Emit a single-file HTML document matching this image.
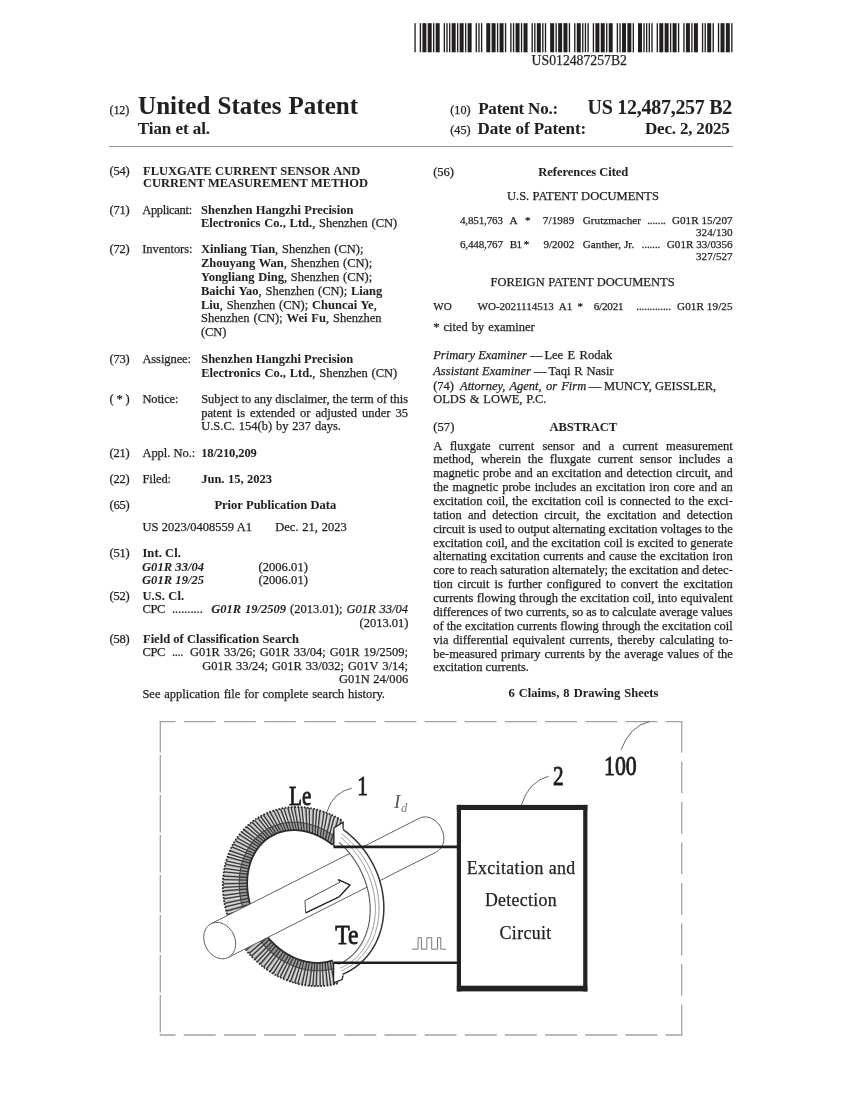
<!DOCTYPE html>
<html><head><meta charset="utf-8"><title>US 12,487,257 B2</title><style>
html,body{margin:0;padding:0;background:#fff;}
body{width:850px;height:1100px;position:relative;overflow:hidden;-webkit-font-smoothing:antialiased;font-family:"Liberation Serif",serif;color:#231f20;}
.t{position:absolute;white-space:nowrap;line-height:1;-webkit-text-stroke:0.25px #231f20;}
.b,b{font-weight:bold;-webkit-text-stroke-width:0.05px}
</style></head>
<body>
<div style="position:absolute;left:0;top:0;width:850px;height:1100px;will-change:transform">
<svg style="position:absolute;left:0;top:0" width="850" height="1100"><g fill="#231f20"><rect x="414.40" y="23.2" width="1.33" height="29.099999999999998"/><rect x="419.72" y="23.2" width="1.33" height="29.099999999999998"/><rect x="422.39" y="23.2" width="3.99" height="29.099999999999998"/><rect x="427.71" y="23.2" width="3.99" height="29.099999999999998"/><rect x="433.03" y="23.2" width="1.33" height="29.099999999999998"/><rect x="435.70" y="23.2" width="3.99" height="29.099999999999998"/><rect x="443.68" y="23.2" width="1.33" height="29.099999999999998"/><rect x="446.34" y="23.2" width="1.33" height="29.099999999999998"/><rect x="449.01" y="23.2" width="1.33" height="29.099999999999998"/><rect x="451.67" y="23.2" width="3.99" height="29.099999999999998"/><rect x="456.99" y="23.2" width="1.33" height="29.099999999999998"/><rect x="459.65" y="23.2" width="3.99" height="29.099999999999998"/><rect x="464.98" y="23.2" width="1.33" height="29.099999999999998"/><rect x="467.64" y="23.2" width="3.99" height="29.099999999999998"/><rect x="475.62" y="23.2" width="1.33" height="29.099999999999998"/><rect x="478.29" y="23.2" width="1.33" height="29.099999999999998"/><rect x="480.95" y="23.2" width="1.33" height="29.099999999999998"/><rect x="486.27" y="23.2" width="3.99" height="29.099999999999998"/><rect x="491.60" y="23.2" width="3.99" height="29.099999999999998"/><rect x="496.92" y="23.2" width="1.33" height="29.099999999999998"/><rect x="499.58" y="23.2" width="3.99" height="29.099999999999998"/><rect x="504.91" y="23.2" width="1.33" height="29.099999999999998"/><rect x="510.23" y="23.2" width="1.33" height="29.099999999999998"/><rect x="512.89" y="23.2" width="1.33" height="29.099999999999998"/><rect x="515.55" y="23.2" width="3.99" height="29.099999999999998"/><rect x="520.88" y="23.2" width="1.33" height="29.099999999999998"/><rect x="523.54" y="23.2" width="3.99" height="29.099999999999998"/><rect x="531.52" y="23.2" width="1.33" height="29.099999999999998"/><rect x="534.19" y="23.2" width="1.33" height="29.099999999999998"/><rect x="536.85" y="23.2" width="3.99" height="29.099999999999998"/><rect x="542.17" y="23.2" width="1.33" height="29.099999999999998"/><rect x="544.83" y="23.2" width="1.33" height="29.099999999999998"/><rect x="550.16" y="23.2" width="3.99" height="29.099999999999998"/><rect x="555.48" y="23.2" width="1.33" height="29.099999999999998"/><rect x="558.14" y="23.2" width="3.99" height="29.099999999999998"/><rect x="563.47" y="23.2" width="3.99" height="29.099999999999998"/><rect x="568.79" y="23.2" width="1.33" height="29.099999999999998"/><rect x="574.12" y="23.2" width="1.33" height="29.099999999999998"/><rect x="576.78" y="23.2" width="3.99" height="29.099999999999998"/><rect x="582.10" y="23.2" width="1.33" height="29.099999999999998"/><rect x="584.76" y="23.2" width="1.33" height="29.099999999999998"/><rect x="587.43" y="23.2" width="1.33" height="29.099999999999998"/><rect x="592.75" y="23.2" width="1.33" height="29.099999999999998"/><rect x="595.41" y="23.2" width="3.99" height="29.099999999999998"/><rect x="600.73" y="23.2" width="3.99" height="29.099999999999998"/><rect x="606.06" y="23.2" width="1.33" height="29.099999999999998"/><rect x="608.72" y="23.2" width="3.99" height="29.099999999999998"/><rect x="616.71" y="23.2" width="1.33" height="29.099999999999998"/><rect x="619.37" y="23.2" width="1.33" height="29.099999999999998"/><rect x="622.03" y="23.2" width="3.99" height="29.099999999999998"/><rect x="627.35" y="23.2" width="3.99" height="29.099999999999998"/><rect x="632.68" y="23.2" width="1.33" height="29.099999999999998"/><rect x="638.00" y="23.2" width="3.99" height="29.099999999999998"/><rect x="643.33" y="23.2" width="1.33" height="29.099999999999998"/><rect x="645.99" y="23.2" width="1.33" height="29.099999999999998"/><rect x="648.65" y="23.2" width="1.33" height="29.099999999999998"/><rect x="651.31" y="23.2" width="1.33" height="29.099999999999998"/><rect x="656.64" y="23.2" width="1.33" height="29.099999999999998"/><rect x="659.30" y="23.2" width="3.99" height="29.099999999999998"/><rect x="664.62" y="23.2" width="3.99" height="29.099999999999998"/><rect x="669.94" y="23.2" width="1.33" height="29.099999999999998"/><rect x="672.61" y="23.2" width="3.99" height="29.099999999999998"/><rect x="677.93" y="23.2" width="1.33" height="29.099999999999998"/><rect x="683.25" y="23.2" width="1.33" height="29.099999999999998"/><rect x="685.92" y="23.2" width="3.99" height="29.099999999999998"/><rect x="691.24" y="23.2" width="1.33" height="29.099999999999998"/><rect x="693.90" y="23.2" width="3.99" height="29.099999999999998"/><rect x="701.89" y="23.2" width="1.33" height="29.099999999999998"/><rect x="704.55" y="23.2" width="1.33" height="29.099999999999998"/><rect x="707.21" y="23.2" width="3.99" height="29.099999999999998"/><rect x="712.54" y="23.2" width="1.33" height="29.099999999999998"/><rect x="717.86" y="23.2" width="1.33" height="29.099999999999998"/><rect x="720.52" y="23.2" width="3.99" height="29.099999999999998"/><rect x="725.85" y="23.2" width="3.99" height="29.099999999999998"/><rect x="731.17" y="23.2" width="1.33" height="29.099999999999998"/></g></svg>
<div style="position:absolute;left:108.9px;top:145.9px;width:624px;height:1.1px;background:#9a9a9a"></div>
<svg style="position:absolute;left:0;top:0" width="850" height="1100" viewBox="0 0 850 1100">
<g stroke="#a3a3a3" stroke-width="1.3" fill="none">
<path d="M159.6,721.6 L682.3,721.6" stroke-dasharray="31.9 8.25" stroke-dashoffset="16"/>
<path d="M159.6,1035 L682.3,1035" stroke-dasharray="31.9 8.25" stroke-dashoffset="16"/>
<path d="M681.7,721 L681.7,1035.6" stroke-dasharray="31.8 8.7" stroke-dashoffset="0"/>
<path d="M160.3,721 L160.3,1035.6" stroke-dasharray="37.5 2.5" stroke-dashoffset="6"/>
</g>
<path d="M341.40,820.12 L340.64,819.66 L339.88,819.21 L339.11,818.77 L338.35,818.33 L337.58,817.90 L336.80,817.48 L336.02,817.07 L335.24,816.67 L334.46,816.27 L333.68,815.88 L332.89,815.50 L332.10,815.13 L331.30,814.76 L330.51,814.41 L329.71,814.06 L328.91,813.72 L328.11,813.38 L327.30,813.06 L326.50,812.74 L325.69,812.43 L324.88,812.13 L324.07,811.84 L323.25,811.56 L322.44,811.28 L321.62,811.02 L320.80,810.76 L319.99,810.51 L319.16,810.27 L318.34,810.03 L317.52,809.81 L316.70,809.59 L315.87,809.39 L315.04,809.19 L314.22,809.00 L313.39,808.81 L312.56,808.64 L311.73,808.47 L310.90,808.32 L310.07,808.17 L309.24,808.03 L308.41,807.90 L307.58,807.78 L306.75,807.67 L305.92,807.56 L305.09,807.47 L304.26,807.38 L303.43,807.30 L302.60,807.23 L301.77,807.17 L300.95,807.12 L300.12,807.07 L299.29,807.04 L298.46,807.01 L297.64,807.00 L296.81,806.99 L295.99,806.99 L295.17,807.00 L294.34,807.01 L293.52,807.04 L292.70,807.08 L291.89,807.12 L291.07,807.17 L290.26,807.24 L289.44,807.31 L288.63,807.38 L287.82,807.47 L287.01,807.57 L286.21,807.67 L285.40,807.79 L284.60,807.91 L283.80,808.04 L283.00,808.18 L282.21,808.33 L281.41,808.49 L280.62,808.65 L279.84,808.83 L279.05,809.01 L278.27,809.20 L277.49,809.40 L276.71,809.61 L275.94,809.83 L275.17,810.05 L274.40,810.29 L273.64,810.53 L272.87,810.78 L272.12,811.04 L271.36,811.30 L270.61,811.58 L269.86,811.86 L269.12,812.16 L268.38,812.46 L267.64,812.77 L266.91,813.08 L266.18,813.41 L265.46,813.74 L264.73,814.08 L264.02,814.43 L263.31,814.79 L262.60,815.16 L261.89,815.53 L261.19,815.91 L260.50,816.30 L259.81,816.70 L259.12,817.10 L258.44,817.51 L257.76,817.93 L257.09,818.36 L256.42,818.80 L255.76,819.24 L255.11,819.69 L254.45,820.15 L253.81,820.62 L253.16,821.09 L252.53,821.57 L251.90,822.06 L251.27,822.55 L250.65,823.06 L250.04,823.57 L249.43,824.08 L248.82,824.61 L248.22,825.14 L247.63,825.68 L247.05,826.22 L246.46,826.77 L245.89,827.33 L245.32,827.90 L244.76,828.47 L244.20,829.05 L243.65,829.63 L243.11,830.22 L242.57,830.82 L242.03,831.43 L241.51,832.04 L240.99,832.65 L240.48,833.28 L239.97,833.91 L239.47,834.54 L238.98,835.19 L238.49,835.83 L238.01,836.49 L237.54,837.15 L237.07,837.81 L236.61,838.48 L236.16,839.16 L235.71,839.84 L235.27,840.53 L234.84,841.23 L234.41,841.93 L234.00,842.63 L233.59,843.34 L233.18,844.05 L232.79,844.77 L232.40,845.50 L232.01,846.23 L231.64,846.96 L231.27,847.70 L230.91,848.45 L230.56,849.20 L230.21,849.95 L229.88,850.71 L229.55,851.47 L229.22,852.24 L228.91,853.01 L228.60,853.79 L228.30,854.57 L228.01,855.35 L227.72,856.14 L227.45,856.93 L227.18,857.73 L226.92,858.53 L226.66,859.33 L226.42,860.14 L226.18,860.95 L225.95,861.77 L225.73,862.58 L225.51,863.40 L225.31,864.23 L225.11,865.06 L224.92,865.89 L224.74,866.72 L224.56,867.56 L224.40,868.40 L224.24,869.24 L224.09,870.08 L223.95,870.93 L223.81,871.78 L223.69,872.63 L223.57,873.49 L223.46,874.34 L223.36,875.20 L223.27,876.06 L223.18,876.93 L223.10,877.79 L223.04,878.66 L222.98,879.53 L222.92,880.40 L222.88,881.27 L222.84,882.14 L222.82,883.02 L222.80,883.89 L222.78,884.77 L222.78,885.65 L222.79,886.53 L222.80,887.41 L222.82,888.29 L222.85,889.17 L222.89,890.06 L222.94,890.94 L222.99,891.82 L223.05,892.71 L223.12,893.59 L223.20,894.48 L223.29,895.36 L223.38,896.25 L223.49,897.14 L223.60,898.02 L223.72,898.91 L223.85,899.79 L223.98,900.68 L224.13,901.56 L224.28,902.45 L224.44,903.33 L224.61,904.21 L224.78,905.09 L224.97,905.98 L225.16,906.86 L225.36,907.74 L225.57,908.61 L225.78,909.49 L226.01,910.37 L226.24,911.24 L226.48,912.11 L226.73,912.99 L226.98,913.86 L227.24,914.72 L227.51,915.59 L227.79,916.45 L228.08,917.32 L228.37,918.18 L228.68,919.04 L228.98,919.89 L229.30,920.75 L229.63,921.60 L229.96,922.45 L230.30,923.30 L230.64,924.14 L231.00,924.98 L231.36,925.82 L231.73,926.66 L232.11,927.49 L232.49,928.32 L232.88,929.14 L233.28,929.97 L233.69,930.79 L234.10,931.61 L234.52,932.42 L234.95,933.23 L235.38,934.04 L235.82,934.84 L236.27,935.64 L236.72,936.43 L237.18,937.22 L237.65,938.01 L238.13,938.80 L238.61,939.58 L239.10,940.35 L239.59,941.12 L240.09,941.89 L240.60,942.65 L241.12,943.41 L241.64,944.16 L242.17,944.91 L242.70,945.65 L243.24,946.39 L243.78,947.12 L244.34,947.85 L244.90,948.58 L245.46,949.30 L246.03,950.01 L246.61,950.72 L247.19,951.42 L247.78,952.12 L248.37,952.81 L248.97,953.50 L249.58,954.18 L250.19,954.86 L250.80,955.53 L251.42,956.19 L252.05,956.85 L252.68,957.50 L253.32,958.15 L253.97,958.79 L254.61,959.42 L255.27,960.05 L255.93,960.68 L256.59,961.29 L257.26,961.90 L257.93,962.50 L258.61,963.10 L259.29,963.69 L259.98,964.28 L260.67,964.85 L261.37,965.42 L262.07,965.99 L262.77,966.54 L263.48,967.09 L264.19,967.64 L264.91,968.17 L265.63,968.70 L266.36,969.23 L267.09,969.74 L267.82,970.25 L268.56,970.75 L269.30,971.24 L270.05,971.73 L270.80,972.21 L271.55,972.68 L272.30,973.15 L273.06,973.60 L273.82,974.05 L274.59,974.49 L275.36,974.93 L276.13,975.35 L276.90,975.77 L277.68,976.18 L278.46,976.59 L279.25,976.98 L280.03,977.37 L280.82,977.75 L281.61,978.12 L282.40,978.49 L283.20,978.84 L284.00,979.19 L284.80,979.53 L285.60,979.86 L286.40,980.18 L287.21,980.50 L288.02,980.81 L288.83,981.11 L289.64,981.40 L290.46,981.68 L291.27,981.95 L292.09,982.22 L292.91,982.48 L293.73,982.72 L294.55,982.96 L295.37,983.20 L296.19,983.42 L297.02,983.64 L297.84,983.84 L298.67,984.04 L299.49,984.23 L300.32,984.41 L301.15,984.58 L301.98,984.75 L302.81,984.90 L303.64,985.05 L304.47,985.19 L305.30,985.32 L306.13,985.44 L306.96,985.55 L307.79,985.65 L308.62,985.75 L309.45,985.83 L310.28,985.91 L311.11,985.98 L311.94,986.04 L312.77,986.09 L313.59,986.13 L314.42,986.17 L315.25,986.19 L316.07,986.21 L316.90,986.21 L317.72,986.21 L318.55,986.20 L319.37,986.18 L320.19,986.15 L321.01,986.12 L321.82,986.07 L322.64,986.02 L323.46,985.96 L324.27,985.88 L325.08,985.80 L325.89,985.72 L326.70,985.62 L327.50,985.51 L328.31,985.40 L329.11,985.27 L329.91,985.14 L330.71,985.00 L331.50,984.85 L332.29,984.69 L333.08,984.52 L333.87,984.35 L334.65,984.17 L335.44,983.97 L336.22,983.77 L336.99,983.56 L337.77,983.34 L332.34,960.42 L331.80,960.60 L331.27,960.77 L330.73,960.94 L330.18,961.09 L329.64,961.25 L329.09,961.39 L328.53,961.53 L327.98,961.66 L327.42,961.79 L326.87,961.90 L326.31,962.01 L325.74,962.12 L325.18,962.22 L324.61,962.31 L324.04,962.39 L323.47,962.47 L322.90,962.54 L322.32,962.60 L321.75,962.65 L321.17,962.70 L320.59,962.74 L320.01,962.78 L319.43,962.81 L318.84,962.83 L318.26,962.84 L317.67,962.85 L317.08,962.85 L316.49,962.84 L315.90,962.83 L315.31,962.81 L314.72,962.78 L314.13,962.74 L313.53,962.70 L312.94,962.65 L312.34,962.60 L311.74,962.53 L311.15,962.46 L310.55,962.39 L309.95,962.30 L309.35,962.21 L308.75,962.12 L308.15,962.01 L307.55,961.90 L306.95,961.78 L306.35,961.66 L305.75,961.52 L305.15,961.39 L304.55,961.24 L303.95,961.09 L303.35,960.93 L302.75,960.76 L302.15,960.59 L301.56,960.41 L300.96,960.23 L300.36,960.03 L299.76,959.83 L299.17,959.63 L298.57,959.41 L297.97,959.20 L297.38,958.97 L296.79,958.74 L296.19,958.50 L295.60,958.25 L295.01,958.00 L294.42,957.74 L293.83,957.48 L293.25,957.21 L292.66,956.93 L292.08,956.64 L291.49,956.35 L290.91,956.06 L290.33,955.75 L289.75,955.44 L289.18,955.13 L288.60,954.81 L288.03,954.48 L287.46,954.15 L286.89,953.81 L286.32,953.46 L285.76,953.11 L285.19,952.75 L284.63,952.39 L284.07,952.02 L283.52,951.64 L282.96,951.26 L282.41,950.87 L281.86,950.48 L281.31,950.08 L280.77,949.68 L280.23,949.27 L279.69,948.85 L279.15,948.43 L278.62,948.01 L278.09,947.57 L277.56,947.14 L277.04,946.70 L276.52,946.25 L276.00,945.80 L275.48,945.34 L274.97,944.87 L274.46,944.41 L273.95,943.93 L273.45,943.45 L272.95,942.97 L272.46,942.48 L271.96,941.99 L271.48,941.49 L270.99,940.99 L270.51,940.48 L270.03,939.97 L269.56,939.46 L269.09,938.94 L268.62,938.41 L268.16,937.88 L267.70,937.35 L267.25,936.81 L266.80,936.27 L266.35,935.72 L265.91,935.17 L265.47,934.61 L265.04,934.05 L264.61,933.49 L264.18,932.93 L263.76,932.35 L263.34,931.78 L262.93,931.20 L262.52,930.62 L262.12,930.04 L261.72,929.45 L261.33,928.85 L260.94,928.26 L260.56,927.66 L260.18,927.06 L259.80,926.45 L259.43,925.84 L259.07,925.23 L258.71,924.62 L258.35,924.00 L258.00,923.38 L257.66,922.76 L257.32,922.13 L256.98,921.50 L256.65,920.87 L256.33,920.23 L256.01,919.60 L255.69,918.96 L255.38,918.32 L255.08,917.67 L254.78,917.03 L254.49,916.38 L254.20,915.73 L253.92,915.08 L253.64,914.42 L253.37,913.77 L253.10,913.11 L252.84,912.45 L252.59,911.79 L252.34,911.13 L252.09,910.46 L251.86,909.80 L251.62,909.13 L251.40,908.46 L251.18,907.79 L250.96,907.12 L250.75,906.45 L250.55,905.78 L250.35,905.10 L250.16,904.43 L249.97,903.75 L249.79,903.07 L249.62,902.40 L249.45,901.72 L249.28,901.04 L249.13,900.36 L248.98,899.68 L248.83,899.00 L248.69,898.32 L248.56,897.64 L248.43,896.96 L248.31,896.28 L248.20,895.60 L248.09,894.92 L247.99,894.24 L247.89,893.56 L247.80,892.88 L247.71,892.20 L247.63,891.52 L247.56,890.85 L247.50,890.17 L247.44,889.49 L247.38,888.82 L247.33,888.14 L247.29,887.47 L247.26,886.79 L247.23,886.12 L247.20,885.45 L247.19,884.78 L247.18,884.11 L247.17,883.44 L247.17,882.78 L247.18,882.11 L247.19,881.45 L247.21,880.79 L247.24,880.13 L247.27,879.47 L247.31,878.81 L247.35,878.16 L247.40,877.50 L247.46,876.85 L247.52,876.20 L247.59,875.56 L247.67,874.91 L247.75,874.27 L247.84,873.63 L247.93,872.99 L248.03,872.36 L248.13,871.73 L248.25,871.10 L248.36,870.47 L248.49,869.84 L248.62,869.22 L248.75,868.60 L248.89,867.99 L249.04,867.38 L249.19,866.77 L249.35,866.16 L249.52,865.56 L249.69,864.96 L249.87,864.36 L250.05,863.76 L250.24,863.17 L250.43,862.59 L250.63,862.01 L250.84,861.43 L251.05,860.85 L251.27,860.28 L251.49,859.71 L251.72,859.15 L251.96,858.59 L252.20,858.03 L252.44,857.48 L252.70,856.93 L252.95,856.39 L253.22,855.85 L253.48,855.31 L253.76,854.78 L254.04,854.25 L254.32,853.73 L254.61,853.21 L254.91,852.70 L255.21,852.19 L255.51,851.69 L255.83,851.19 L256.14,850.69 L256.47,850.20 L256.79,849.72 L257.12,849.24 L257.46,848.76 L257.80,848.29 L258.15,847.83 L258.50,847.37 L258.86,846.91 L259.22,846.46 L259.59,846.02 L259.96,845.58 L260.34,845.15 L260.72,844.72 L261.11,844.30 L261.50,843.88 L261.89,843.47 L262.29,843.06 L262.70,842.66 L263.11,842.27 L263.52,841.88 L263.94,841.49 L264.36,841.12 L264.79,840.75 L265.22,840.38 L265.66,840.02 L266.10,839.67 L266.54,839.32 L266.99,838.98 L267.44,838.64 L267.90,838.31 L268.36,837.99 L268.82,837.67 L269.29,837.36 L269.76,837.05 L270.24,836.75 L270.72,836.46 L271.20,836.17 L271.69,835.89 L272.18,835.62 L272.67,835.35 L273.17,835.09 L273.67,834.84 L274.17,834.59 L274.68,834.35 L275.19,834.11 L275.70,833.88 L276.22,833.66 L276.74,833.45 L277.26,833.24 L277.79,833.04 L278.32,832.84 L278.85,832.65 L279.38,832.47 L279.92,832.30 L280.46,832.13 L281.00,831.97 L281.55,831.81 L282.10,831.66 L282.65,831.52 L283.20,831.39 L283.76,831.26 L284.31,831.14 L284.87,831.03 L285.44,830.92 L286.00,830.82 L286.57,830.73 L287.13,830.64 L287.70,830.56 L288.28,830.49 L288.85,830.43 L289.43,830.37 L290.00,830.32 L290.58,830.27 L291.16,830.23 L291.74,830.20 L292.33,830.18 L292.91,830.16 L293.50,830.15 L294.09,830.15 L294.68,830.16 L295.27,830.17 L295.86,830.18 L296.45,830.21 L297.04,830.24 L297.64,830.28 L298.23,830.33 L298.83,830.38 L299.42,830.44 L300.02,830.51 L300.62,830.58 L301.21,830.66 L301.81,830.75 L302.41,830.85 L303.01,830.95 L303.61,831.06 L304.21,831.17 L304.81,831.29 L305.41,831.42 L306.01,831.56 L306.61,831.70 L307.21,831.85 L307.81,832.01 L308.41,832.17 L309.01,832.34 L309.61,832.52 L310.21,832.70 L310.81,832.89 L311.40,833.09 L312.00,833.29 L312.60,833.50 L313.19,833.72 L313.79,833.94 L314.38,834.17 L314.97,834.41 L315.57,834.65 L316.16,834.90 L316.75,835.16 L317.34,835.42 L317.92,835.69 L318.51,835.96 L319.09,836.24 L319.68,836.53 L320.26,836.83 L320.84,837.13 L321.42,837.43 L322.00,837.75 L322.57,838.07 L323.15,838.39 L323.72,838.72 L324.29,839.06 L324.86,839.40 L325.42,839.75 L325.99,840.11 L326.55,840.47 L327.11,840.84 L327.66,841.21 L328.22,841.59 L328.77,841.97 L329.32,842.36 L329.87,842.76 L330.42,843.16 L330.96,843.57 L331.50,843.98 L332.04,844.40 L332.57,844.83 Z" fill="#b8b8b8" stroke="none"/><path d="M341.40,820.12 L332.57,844.83 M338.35,818.33 L330.42,843.16 M334.46,816.27 L327.66,841.21 M331.30,814.76 L325.42,839.75 M327.30,813.06 L322.57,838.07 M324.07,811.84 L320.26,836.83 M319.99,810.51 L317.34,835.42 M316.70,809.59 L314.97,834.41 M313.39,808.81 L312.60,833.50 M309.24,808.03 L309.61,832.52 M305.92,807.56 L307.21,831.85 M301.77,807.17 L304.21,831.17 M298.46,807.01 L301.81,830.75 M294.34,807.01 L298.83,830.38 M291.07,807.17 L296.45,830.21 M287.82,807.47 L294.09,830.15 M283.80,808.04 L291.16,830.23 M280.62,808.65 L288.85,830.43 M276.71,809.61 L286.00,830.82 M273.64,810.53 L283.76,831.26 M269.86,811.86 L281.00,831.97 M266.91,813.08 L278.85,832.65 M263.31,814.79 L276.22,833.66 M260.50,816.30 L274.17,834.59 M257.76,817.93 L272.18,835.62 M254.45,820.15 L269.76,837.05 M251.90,822.06 L267.90,838.31 M248.82,824.61 L265.66,840.02 M246.46,826.77 L263.94,841.49 M243.65,829.63 L261.89,843.47 M241.51,832.04 L260.34,845.15 M239.47,834.54 L258.86,846.91 M237.07,837.81 L257.12,849.24 M235.27,840.53 L255.83,851.19 M233.18,844.05 L254.32,853.73 M231.64,846.96 L253.22,855.85 M229.88,850.71 L251.96,858.59 M228.60,853.79 L251.05,860.85 M227.45,856.93 L250.24,863.17 M226.18,860.95 L249.35,866.16 M225.31,864.23 L248.75,868.60 M224.40,868.40 L248.13,871.73 M223.81,871.78 L247.75,874.27 M223.27,876.06 L247.40,877.50 M222.98,879.53 L247.24,880.13 M222.80,883.89 L247.17,883.44 M222.80,887.41 L247.23,886.12 M222.94,890.94 L247.38,888.82 M223.29,895.36 L247.71,892.20 M223.72,898.91 L248.09,894.92 M224.44,903.33 L248.69,898.32 M225.16,906.86 L249.28,901.04 M226.24,911.24 L250.16,904.43 M227.24,914.72 L250.96,907.12 M228.37,918.18 L251.86,909.80 M229.96,922.45 L253.10,913.11 M231.36,925.82 L254.20,915.73 M233.28,929.97 L255.69,918.96 M234.95,933.23 L256.98,921.50 M237.18,937.22 L258.71,924.62 M239.10,940.35 L260.18,927.06 M241.12,943.41 L261.72,929.45 M243.78,947.12 L263.76,932.35 M246.03,950.01 L265.47,934.61 M248.97,953.50 L267.70,937.35 M251.42,956.19 L269.56,939.46 M254.61,959.42 L271.96,941.99 M257.26,961.90 L273.95,943.93 M259.98,964.28 L276.00,945.80 M263.48,967.09 L278.62,948.01 M266.36,969.23 L280.77,949.68 M270.05,971.73 L283.52,951.64 M273.06,973.60 L285.76,953.11 M276.90,975.77 L288.60,954.81 M280.03,977.37 L290.91,956.06 M283.20,978.84 L293.25,957.21 M287.21,980.50 L296.19,958.50 M290.46,981.68 L298.57,959.41 M294.55,982.96 L301.56,960.41 M297.84,983.84 L303.95,961.09 M301.98,984.75 L306.95,961.78 M305.30,985.32 L309.35,962.21 M309.45,985.83 L312.34,962.60 M312.77,986.09 L314.72,962.78 M316.07,986.21 L317.08,962.85 M320.19,986.15 L320.01,962.78 M323.46,985.96 L322.32,962.60 M327.50,985.51 L325.18,962.22 M330.71,985.00 L327.42,961.79 M334.65,984.17 L330.18,961.09 M337.77,983.34 L332.34,960.42" stroke="#383838" stroke-width="1.3" fill="none"/><path d="M339.88,819.21 L331.50,843.98 M336.02,817.07 L328.77,841.97 M332.89,815.50 L326.55,840.47 M328.91,813.72 L323.72,838.72 M325.69,812.43 L321.42,837.43 M322.44,811.28 L319.09,836.24 M318.34,810.03 L316.16,834.90 M315.04,809.19 L313.79,833.94 M310.90,808.32 L310.81,832.89 M307.58,807.78 L308.41,832.17 M303.43,807.30 L305.41,831.42 M300.12,807.07 L303.01,830.95 M296.81,806.99 L300.62,830.58 M292.70,807.08 L297.64,830.28 M289.44,807.31 L295.27,830.17 M285.40,807.79 L292.33,830.18 M282.21,808.33 L290.00,830.32 M278.27,809.20 L287.13,830.64 M275.17,810.05 L284.87,831.03 M272.12,811.04 L282.65,831.52 M268.38,812.46 L279.92,832.30 M265.46,813.74 L277.79,833.04 M261.89,815.53 L275.19,834.11 M259.12,817.10 L273.17,835.09 M255.76,819.24 L270.72,836.46 M253.16,821.09 L268.82,837.67 M250.65,823.06 L266.99,838.98 M247.63,825.68 L264.79,840.75 M245.32,827.90 L263.11,842.27 M242.57,830.82 L261.11,844.30 M240.48,833.28 L259.59,846.02 M238.01,836.49 L257.80,848.29 M236.16,839.16 L256.47,850.20 M234.00,842.63 L254.91,852.70 M232.40,845.50 L253.76,854.78 M230.91,848.45 L252.70,856.93 M229.22,852.24 L251.49,859.71 M228.01,855.35 L250.63,862.01 M226.66,859.33 L249.69,864.96 M225.73,862.58 L249.04,867.38 M224.74,866.72 L248.36,870.47 M224.09,870.08 L247.93,872.99 M223.57,873.49 L247.59,875.56 M223.10,877.79 L247.31,878.81 M222.88,881.27 L247.19,881.45 M222.78,885.65 L247.19,884.78 M222.85,889.17 L247.29,887.47 M223.12,893.59 L247.56,890.85 M223.49,897.14 L247.89,893.56 M223.98,900.68 L248.31,896.28 M224.78,905.09 L248.98,899.68 M225.57,908.61 L249.62,902.40 M226.73,912.99 L250.55,905.78 M227.79,916.45 L251.40,908.46 M229.30,920.75 L252.59,911.79 M230.64,924.14 L253.64,914.42 M232.11,927.49 L254.78,917.03 M234.10,931.61 L256.33,920.23 M235.82,934.84 L257.66,922.76 M238.13,938.80 L259.43,925.84 M240.09,941.89 L260.94,928.26 M242.70,945.65 L262.93,931.20 M244.90,948.58 L264.61,933.49 M247.78,952.12 L266.80,936.27 M250.19,954.86 L268.62,938.41 M252.68,957.50 L270.51,940.48 M255.93,960.68 L272.95,942.97 M258.61,963.10 L274.97,944.87 M262.07,965.99 L277.56,947.14 M264.91,968.17 L279.69,948.85 M268.56,970.75 L282.41,950.87 M271.55,972.68 L284.63,952.39 M274.59,974.49 L286.89,953.81 M278.46,976.59 L289.75,955.44 M281.61,978.12 L292.08,956.64 M285.60,979.86 L295.01,958.00 M288.83,981.11 L297.38,958.97 M292.91,982.48 L300.36,960.03 M296.19,983.42 L302.75,960.76 M299.49,984.23 L305.15,961.39 M303.64,985.05 L308.15,962.01 M306.96,985.55 L310.55,962.39 M311.11,985.98 L313.53,962.70 M314.42,986.17 L315.90,962.83 M318.55,986.20 L318.84,962.83 M321.82,986.07 L321.17,962.70 M325.08,985.80 L323.47,962.47 M329.11,985.27 L326.31,962.01 M332.29,984.69 L328.53,961.53 M336.22,983.77 L331.27,960.77" stroke="#e4e4e4" stroke-width="0.9" fill="none"/><path d="M341.40,820.12 L340.64,819.66 L339.88,819.21 L339.11,818.77 L338.35,818.33 L337.58,817.90 L336.80,817.48 L336.02,817.07 L335.24,816.67 L334.46,816.27 L333.68,815.88 L332.89,815.50 L332.10,815.13 L331.30,814.76 L330.51,814.41 L329.71,814.06 L328.91,813.72 L328.11,813.38 L327.30,813.06 L326.50,812.74 L325.69,812.43 L324.88,812.13 L324.07,811.84 L323.25,811.56 L322.44,811.28 L321.62,811.02 L320.80,810.76 L319.99,810.51 L319.16,810.27 L318.34,810.03 L317.52,809.81 L316.70,809.59 L315.87,809.39 L315.04,809.19 L314.22,809.00 L313.39,808.81 L312.56,808.64 L311.73,808.47 L310.90,808.32 L310.07,808.17 L309.24,808.03 L308.41,807.90 L307.58,807.78 L306.75,807.67 L305.92,807.56 L305.09,807.47 L304.26,807.38 L303.43,807.30 L302.60,807.23 L301.77,807.17 L300.95,807.12 L300.12,807.07 L299.29,807.04 L298.46,807.01 L297.64,807.00 L296.81,806.99 L295.99,806.99 L295.17,807.00 L294.34,807.01 L293.52,807.04 L292.70,807.08 L291.89,807.12 L291.07,807.17 L290.26,807.24 L289.44,807.31 L288.63,807.38 L287.82,807.47 L287.01,807.57 L286.21,807.67 L285.40,807.79 L284.60,807.91 L283.80,808.04 L283.00,808.18 L282.21,808.33 L281.41,808.49 L280.62,808.65 L279.84,808.83 L279.05,809.01 L278.27,809.20 L277.49,809.40 L276.71,809.61 L275.94,809.83 L275.17,810.05 L274.40,810.29 L273.64,810.53 L272.87,810.78 L272.12,811.04 L271.36,811.30 L270.61,811.58 L269.86,811.86 L269.12,812.16 L268.38,812.46 L267.64,812.77 L266.91,813.08 L266.18,813.41 L265.46,813.74 L264.73,814.08 L264.02,814.43 L263.31,814.79 L262.60,815.16 L261.89,815.53 L261.19,815.91 L260.50,816.30 L259.81,816.70 L259.12,817.10 L258.44,817.51 L257.76,817.93 L257.09,818.36 L256.42,818.80 L255.76,819.24 L255.11,819.69 L254.45,820.15 L253.81,820.62 L253.16,821.09 L252.53,821.57 L251.90,822.06 L251.27,822.55 L250.65,823.06 L250.04,823.57 L249.43,824.08 L248.82,824.61 L248.22,825.14 L247.63,825.68 L247.05,826.22 L246.46,826.77 L245.89,827.33 L245.32,827.90 L244.76,828.47 L244.20,829.05 L243.65,829.63 L243.11,830.22 L242.57,830.82 L242.03,831.43 L241.51,832.04 L240.99,832.65 L240.48,833.28 L239.97,833.91 L239.47,834.54 L238.98,835.19 L238.49,835.83 L238.01,836.49 L237.54,837.15 L237.07,837.81 L236.61,838.48 L236.16,839.16 L235.71,839.84 L235.27,840.53 L234.84,841.23 L234.41,841.93 L234.00,842.63 L233.59,843.34 L233.18,844.05 L232.79,844.77 L232.40,845.50 L232.01,846.23 L231.64,846.96 L231.27,847.70 L230.91,848.45 L230.56,849.20 L230.21,849.95 L229.88,850.71 L229.55,851.47 L229.22,852.24 L228.91,853.01 L228.60,853.79 L228.30,854.57 L228.01,855.35 L227.72,856.14 L227.45,856.93 L227.18,857.73 L226.92,858.53 L226.66,859.33 L226.42,860.14 L226.18,860.95 L225.95,861.77 L225.73,862.58 L225.51,863.40 L225.31,864.23 L225.11,865.06 L224.92,865.89 L224.74,866.72 L224.56,867.56 L224.40,868.40 L224.24,869.24 L224.09,870.08 L223.95,870.93 L223.81,871.78 L223.69,872.63 L223.57,873.49 L223.46,874.34 L223.36,875.20 L223.27,876.06 L223.18,876.93 L223.10,877.79 L223.04,878.66 L222.98,879.53 L222.92,880.40 L222.88,881.27 L222.84,882.14 L222.82,883.02 L222.80,883.89 L222.78,884.77 L222.78,885.65 L222.79,886.53 L222.80,887.41 L222.82,888.29 L222.85,889.17 L222.89,890.06 L222.94,890.94 L222.99,891.82 L223.05,892.71 L223.12,893.59 L223.20,894.48 L223.29,895.36 L223.38,896.25 L223.49,897.14 L223.60,898.02 L223.72,898.91 L223.85,899.79 L223.98,900.68 L224.13,901.56 L224.28,902.45 L224.44,903.33 L224.61,904.21 L224.78,905.09 L224.97,905.98 L225.16,906.86 L225.36,907.74 L225.57,908.61 L225.78,909.49 L226.01,910.37 L226.24,911.24 L226.48,912.11 L226.73,912.99 L226.98,913.86 L227.24,914.72 L227.51,915.59 L227.79,916.45 L228.08,917.32 L228.37,918.18 L228.68,919.04 L228.98,919.89 L229.30,920.75 L229.63,921.60 L229.96,922.45 L230.30,923.30 L230.64,924.14 L231.00,924.98 L231.36,925.82 L231.73,926.66 L232.11,927.49 L232.49,928.32 L232.88,929.14 L233.28,929.97 L233.69,930.79 L234.10,931.61 L234.52,932.42 L234.95,933.23 L235.38,934.04 L235.82,934.84 L236.27,935.64 L236.72,936.43 L237.18,937.22 L237.65,938.01 L238.13,938.80 L238.61,939.58 L239.10,940.35 L239.59,941.12 L240.09,941.89 L240.60,942.65 L241.12,943.41 L241.64,944.16 L242.17,944.91 L242.70,945.65 L243.24,946.39 L243.78,947.12 L244.34,947.85 L244.90,948.58 L245.46,949.30 L246.03,950.01 L246.61,950.72 L247.19,951.42 L247.78,952.12 L248.37,952.81 L248.97,953.50 L249.58,954.18 L250.19,954.86 L250.80,955.53 L251.42,956.19 L252.05,956.85 L252.68,957.50 L253.32,958.15 L253.97,958.79 L254.61,959.42 L255.27,960.05 L255.93,960.68 L256.59,961.29 L257.26,961.90 L257.93,962.50 L258.61,963.10 L259.29,963.69 L259.98,964.28 L260.67,964.85 L261.37,965.42 L262.07,965.99 L262.77,966.54 L263.48,967.09 L264.19,967.64 L264.91,968.17 L265.63,968.70 L266.36,969.23 L267.09,969.74 L267.82,970.25 L268.56,970.75 L269.30,971.24 L270.05,971.73 L270.80,972.21 L271.55,972.68 L272.30,973.15 L273.06,973.60 L273.82,974.05 L274.59,974.49 L275.36,974.93 L276.13,975.35 L276.90,975.77 L277.68,976.18 L278.46,976.59 L279.25,976.98 L280.03,977.37 L280.82,977.75 L281.61,978.12 L282.40,978.49 L283.20,978.84 L284.00,979.19 L284.80,979.53 L285.60,979.86 L286.40,980.18 L287.21,980.50 L288.02,980.81 L288.83,981.11 L289.64,981.40 L290.46,981.68 L291.27,981.95 L292.09,982.22 L292.91,982.48 L293.73,982.72 L294.55,982.96 L295.37,983.20 L296.19,983.42 L297.02,983.64 L297.84,983.84 L298.67,984.04 L299.49,984.23 L300.32,984.41 L301.15,984.58 L301.98,984.75 L302.81,984.90 L303.64,985.05 L304.47,985.19 L305.30,985.32 L306.13,985.44 L306.96,985.55 L307.79,985.65 L308.62,985.75 L309.45,985.83 L310.28,985.91 L311.11,985.98 L311.94,986.04 L312.77,986.09 L313.59,986.13 L314.42,986.17 L315.25,986.19 L316.07,986.21 L316.90,986.21 L317.72,986.21 L318.55,986.20 L319.37,986.18 L320.19,986.15 L321.01,986.12 L321.82,986.07 L322.64,986.02 L323.46,985.96 L324.27,985.88 L325.08,985.80 L325.89,985.72 L326.70,985.62 L327.50,985.51 L328.31,985.40 L329.11,985.27 L329.91,985.14 L330.71,985.00 L331.50,984.85 L332.29,984.69 L333.08,984.52 L333.87,984.35 L334.65,984.17 L335.44,983.97 L336.22,983.77 L336.99,983.56 L337.77,983.34" stroke="#2a2a2a" stroke-width="1.8" fill="none" stroke-dasharray="1.6 1.6"/><path d="M332.57,844.83 L332.04,844.40 L331.50,843.98 L330.96,843.57 L330.42,843.16 L329.87,842.76 L329.32,842.36 L328.77,841.97 L328.22,841.59 L327.66,841.21 L327.11,840.84 L326.55,840.47 L325.99,840.11 L325.42,839.75 L324.86,839.40 L324.29,839.06 L323.72,838.72 L323.15,838.39 L322.57,838.07 L322.00,837.75 L321.42,837.43 L320.84,837.13 L320.26,836.83 L319.68,836.53 L319.09,836.24 L318.51,835.96 L317.92,835.69 L317.34,835.42 L316.75,835.16 L316.16,834.90 L315.57,834.65 L314.97,834.41 L314.38,834.17 L313.79,833.94 L313.19,833.72 L312.60,833.50 L312.00,833.29 L311.40,833.09 L310.81,832.89 L310.21,832.70 L309.61,832.52 L309.01,832.34 L308.41,832.17 L307.81,832.01 L307.21,831.85 L306.61,831.70 L306.01,831.56 L305.41,831.42 L304.81,831.29 L304.21,831.17 L303.61,831.06 L303.01,830.95 L302.41,830.85 L301.81,830.75 L301.21,830.66 L300.62,830.58 L300.02,830.51 L299.42,830.44 L298.83,830.38 L298.23,830.33 L297.64,830.28 L297.04,830.24 L296.45,830.21 L295.86,830.18 L295.27,830.17 L294.68,830.16 L294.09,830.15 L293.50,830.15 L292.91,830.16 L292.33,830.18 L291.74,830.20 L291.16,830.23 L290.58,830.27 L290.00,830.32 L289.43,830.37 L288.85,830.43 L288.28,830.49 L287.70,830.56 L287.13,830.64 L286.57,830.73 L286.00,830.82 L285.44,830.92 L284.87,831.03 L284.31,831.14 L283.76,831.26 L283.20,831.39 L282.65,831.52 L282.10,831.66 L281.55,831.81 L281.00,831.97 L280.46,832.13 L279.92,832.30 L279.38,832.47 L278.85,832.65 L278.32,832.84 L277.79,833.04 L277.26,833.24 L276.74,833.45 L276.22,833.66 L275.70,833.88 L275.19,834.11 L274.68,834.35 L274.17,834.59 L273.67,834.84 L273.17,835.09 L272.67,835.35 L272.18,835.62 L271.69,835.89 L271.20,836.17 L270.72,836.46 L270.24,836.75 L269.76,837.05 L269.29,837.36 L268.82,837.67 L268.36,837.99 L267.90,838.31 L267.44,838.64 L266.99,838.98 L266.54,839.32 L266.10,839.67 L265.66,840.02 L265.22,840.38 L264.79,840.75 L264.36,841.12 L263.94,841.49 L263.52,841.88 L263.11,842.27 L262.70,842.66 L262.29,843.06 L261.89,843.47 L261.50,843.88 L261.11,844.30 L260.72,844.72 L260.34,845.15 L259.96,845.58 L259.59,846.02 L259.22,846.46 L258.86,846.91 L258.50,847.37 L258.15,847.83 L257.80,848.29 L257.46,848.76 L257.12,849.24 L256.79,849.72 L256.47,850.20 L256.14,850.69 L255.83,851.19 L255.51,851.69 L255.21,852.19 L254.91,852.70 L254.61,853.21 L254.32,853.73 L254.04,854.25 L253.76,854.78 L253.48,855.31 L253.22,855.85 L252.95,856.39 L252.70,856.93 L252.44,857.48 L252.20,858.03 L251.96,858.59 L251.72,859.15 L251.49,859.71 L251.27,860.28 L251.05,860.85 L250.84,861.43 L250.63,862.01 L250.43,862.59 L250.24,863.17 L250.05,863.76 L249.87,864.36 L249.69,864.96 L249.52,865.56 L249.35,866.16 L249.19,866.77 L249.04,867.38 L248.89,867.99 L248.75,868.60 L248.62,869.22 L248.49,869.84 L248.36,870.47 L248.25,871.10 L248.13,871.73 L248.03,872.36 L247.93,872.99 L247.84,873.63 L247.75,874.27 L247.67,874.91 L247.59,875.56 L247.52,876.20 L247.46,876.85 L247.40,877.50 L247.35,878.16 L247.31,878.81 L247.27,879.47 L247.24,880.13 L247.21,880.79 L247.19,881.45 L247.18,882.11 L247.17,882.78 L247.17,883.44 L247.18,884.11 L247.19,884.78 L247.20,885.45 L247.23,886.12 L247.26,886.79 L247.29,887.47 L247.33,888.14 L247.38,888.82 L247.44,889.49 L247.50,890.17 L247.56,890.85 L247.63,891.52 L247.71,892.20 L247.80,892.88 L247.89,893.56 L247.99,894.24 L248.09,894.92 L248.20,895.60 L248.31,896.28 L248.43,896.96 L248.56,897.64 L248.69,898.32 L248.83,899.00 L248.98,899.68 L249.13,900.36 L249.28,901.04 L249.45,901.72 L249.62,902.40 L249.79,903.07 L249.97,903.75 L250.16,904.43 L250.35,905.10 L250.55,905.78 L250.75,906.45 L250.96,907.12 L251.18,907.79 L251.40,908.46 L251.62,909.13 L251.86,909.80 L252.09,910.46 L252.34,911.13 L252.59,911.79 L252.84,912.45 L253.10,913.11 L253.37,913.77 L253.64,914.42 L253.92,915.08 L254.20,915.73 L254.49,916.38 L254.78,917.03 L255.08,917.67 L255.38,918.32 L255.69,918.96 L256.01,919.60 L256.33,920.23 L256.65,920.87 L256.98,921.50 L257.32,922.13 L257.66,922.76 L258.00,923.38 L258.35,924.00 L258.71,924.62 L259.07,925.23 L259.43,925.84 L259.80,926.45 L260.18,927.06 L260.56,927.66 L260.94,928.26 L261.33,928.85 L261.72,929.45 L262.12,930.04 L262.52,930.62 L262.93,931.20 L263.34,931.78 L263.76,932.35 L264.18,932.93 L264.61,933.49 L265.04,934.05 L265.47,934.61 L265.91,935.17 L266.35,935.72 L266.80,936.27 L267.25,936.81 L267.70,937.35 L268.16,937.88 L268.62,938.41 L269.09,938.94 L269.56,939.46 L270.03,939.97 L270.51,940.48 L270.99,940.99 L271.48,941.49 L271.96,941.99 L272.46,942.48 L272.95,942.97 L273.45,943.45 L273.95,943.93 L274.46,944.41 L274.97,944.87 L275.48,945.34 L276.00,945.80 L276.52,946.25 L277.04,946.70 L277.56,947.14 L278.09,947.57 L278.62,948.01 L279.15,948.43 L279.69,948.85 L280.23,949.27 L280.77,949.68 L281.31,950.08 L281.86,950.48 L282.41,950.87 L282.96,951.26 L283.52,951.64 L284.07,952.02 L284.63,952.39 L285.19,952.75 L285.76,953.11 L286.32,953.46 L286.89,953.81 L287.46,954.15 L288.03,954.48 L288.60,954.81 L289.18,955.13 L289.75,955.44 L290.33,955.75 L290.91,956.06 L291.49,956.35 L292.08,956.64 L292.66,956.93 L293.25,957.21 L293.83,957.48 L294.42,957.74 L295.01,958.00 L295.60,958.25 L296.19,958.50 L296.79,958.74 L297.38,958.97 L297.97,959.20 L298.57,959.41 L299.17,959.63 L299.76,959.83 L300.36,960.03 L300.96,960.23 L301.56,960.41 L302.15,960.59 L302.75,960.76 L303.35,960.93 L303.95,961.09 L304.55,961.24 L305.15,961.39 L305.75,961.52 L306.35,961.66 L306.95,961.78 L307.55,961.90 L308.15,962.01 L308.75,962.12 L309.35,962.21 L309.95,962.30 L310.55,962.39 L311.15,962.46 L311.74,962.53 L312.34,962.60 L312.94,962.65 L313.53,962.70 L314.13,962.74 L314.72,962.78 L315.31,962.81 L315.90,962.83 L316.49,962.84 L317.08,962.85 L317.67,962.85 L318.26,962.84 L318.84,962.83 L319.43,962.81 L320.01,962.78 L320.59,962.74 L321.17,962.70 L321.75,962.65 L322.32,962.60 L322.90,962.54 L323.47,962.47 L324.04,962.39 L324.61,962.31 L325.18,962.22 L325.74,962.12 L326.31,962.01 L326.87,961.90 L327.42,961.79 L327.98,961.66 L328.53,961.53 L329.09,961.39 L329.64,961.25 L330.18,961.09 L330.73,960.94 L331.27,960.77 L331.80,960.60 L332.34,960.42" stroke="#2a2a2a" stroke-width="1.8" fill="none"/><path d="M336.98,838.15 L336.38,837.68 L335.77,837.22 L335.16,836.76 L334.55,836.31 L333.93,835.87 L333.31,835.43 L332.69,835.00 L332.07,834.58 L331.44,834.16 L330.81,833.75 L330.18,833.34 L329.54,832.94 L328.91,832.55 L328.27,832.17 L327.62,831.79 L326.98,831.42 L326.33,831.05 L325.68,830.70 L325.03,830.34 L324.38,830.00 L323.72,829.66 L323.06,829.33 L322.41,829.01 L321.75,828.70 L321.08,828.39 L320.42,828.09 L319.75,827.79 L319.09,827.51 L318.42,827.23 L317.75,826.95 L317.08,826.69 L316.40,826.43 L315.73,826.18 L315.06,825.94 L314.38,825.70 L313.70,825.47 L313.03,825.25 L312.35,825.04 L311.67,824.84 L310.99,824.64 L310.31,824.45 L309.63,824.26 L308.95,824.09 L308.27,823.92 L307.59,823.76 L306.91,823.61 L306.23,823.46 L305.54,823.33 L304.86,823.20 L304.18,823.08 L303.50,822.96 L302.82,822.86 L302.14,822.76 L301.46,822.67 L300.78,822.58 L300.10,822.51 L299.42,822.44 L298.74,822.38 L298.06,822.33 L297.38,822.29 L296.71,822.25 L296.03,822.22 L295.36,822.20 L294.69,822.19 L294.01,822.18 L293.34,822.19 L292.68,822.20 L292.01,822.21 L291.34,822.24 L290.68,822.27 L290.01,822.32 L289.35,822.37 L288.69,822.42 L288.03,822.49 L287.38,822.56 L286.72,822.64 L286.07,822.73 L285.42,822.83 L284.77,822.93 L284.13,823.04 L283.48,823.16 L282.84,823.29 L282.20,823.43 L281.56,823.57 L280.93,823.72 L280.30,823.88 L279.67,824.04 L279.05,824.22 L278.42,824.40 L277.80,824.58 L277.18,824.78 L276.57,824.98 L275.96,825.19 L275.35,825.41 L274.75,825.64 L274.14,825.87 L273.55,826.11 L272.95,826.36 L272.36,826.62 L271.77,826.88 L271.19,827.15 L270.61,827.43 L270.03,827.71 L269.45,828.01 L268.89,828.30 L268.32,828.61 L267.76,828.92 L267.20,829.25 L266.65,829.57 L266.10,829.91 L265.55,830.25 L265.01,830.60 L264.47,830.95 L263.94,831.32 L263.41,831.69 L262.89,832.06 L262.37,832.45 L261.85,832.83 L261.34,833.23 L260.84,833.63 L260.34,834.04 L259.84,834.46 L259.35,834.88 L258.86,835.31 L258.38,835.75 L257.91,836.19 L257.43,836.64 L256.97,837.09 L256.51,837.55 L256.05,838.02 L255.60,838.49 L255.15,838.97 L254.71,839.46 L254.28,839.95 L253.85,840.45 L253.43,840.95 L253.01,841.46 L252.59,841.98 L252.19,842.50 L251.78,843.02 L251.39,843.55 L251.00,844.09 L250.61,844.64 L250.23,845.18 L249.86,845.74 L249.49,846.30 L249.13,846.86 L248.78,847.43 L248.43,848.01 L248.09,848.59 L247.75,849.17 L247.42,849.76 L247.09,850.36 L246.77,850.96 L246.46,851.56 L246.15,852.17 L245.85,852.78 L245.56,853.40 L245.27,854.02 L244.99,854.65 L244.72,855.28 L244.45,855.92 L244.19,856.56 L243.93,857.21 L243.68,857.85 L243.44,858.51 L243.20,859.16 L242.97,859.83 L242.75,860.49 L242.53,861.16 L242.33,861.83 L242.12,862.51 L241.93,863.19 L241.74,863.87 L241.55,864.56 L241.38,865.24 L241.21,865.94 L241.05,866.63 L240.89,867.33 L240.74,868.04 L240.60,868.74 L240.46,869.45 L240.34,870.16 L240.22,870.87 L240.10,871.59 L239.99,872.31 L239.89,873.03 L239.80,873.76 L239.71,874.48 L239.63,875.21 L239.56,875.94 L239.49,876.68 L239.43,877.41 L239.38,878.15 L239.34,878.89 L239.30,879.63 L239.27,880.37 L239.24,881.12 L239.22,881.86 L239.21,882.61 L239.21,883.36 L239.22,884.11 L239.23,884.86 L239.24,885.62 L239.27,886.37 L239.30,887.13 L239.34,887.88 L239.38,888.64 L239.44,889.40 L239.50,890.16 L239.56,890.92 L239.64,891.68 L239.72,892.44 L239.80,893.20 L239.90,893.96 L240.00,894.72 L240.11,895.48 L240.22,896.25 L240.34,897.01 L240.47,897.77 L240.61,898.53 L240.75,899.29 L240.90,900.05 L241.06,900.82 L241.22,901.58 L241.39,902.34 L241.57,903.10 L241.75,903.85 L241.94,904.61 L242.14,905.37 L242.34,906.12 L242.55,906.88 L242.77,907.63 L242.99,908.39 L243.22,909.14 L243.46,909.89 L243.70,910.64 L243.95,911.38 L244.20,912.13 L244.47,912.87 L244.73,913.62 L245.01,914.36 L245.29,915.10 L245.58,915.83 L245.87,916.57 L246.17,917.30 L246.48,918.03 L246.79,918.76 L247.11,919.49 L247.44,920.21 L247.77,920.93 L248.11,921.65 L248.45,922.36 L248.80,923.08 L249.16,923.79 L249.52,924.49 L249.89,925.20 L250.26,925.90 L250.64,926.60 L251.02,927.29 L251.42,927.99 L251.81,928.67 L252.21,929.36 L252.62,930.04 L253.03,930.72 L253.45,931.39 L253.88,932.06 L254.31,932.73 L254.74,933.40 L255.18,934.05 L255.63,934.71 L256.08,935.36 L256.54,936.01 L257.00,936.65 L257.47,937.29 L257.94,937.93 L258.41,938.56 L258.90,939.18 L259.38,939.80 L259.87,940.42 L260.37,941.03 L260.87,941.64 L261.38,942.24 L261.89,942.84 L262.40,943.44 L262.92,944.02 L263.45,944.61 L263.98,945.19 L264.51,945.76 L265.05,946.33 L265.59,946.89 L266.13,947.45 L266.68,948.00 L267.24,948.55 L267.79,949.09 L268.36,949.62 L268.92,950.15 L269.49,950.68 L270.07,951.20 L270.64,951.71 L271.23,952.22 L271.81,952.72 L272.40,953.21 L272.99,953.70 L273.59,954.19 L274.18,954.66 L274.79,955.13 L275.39,955.60 L276.00,956.06 L276.61,956.51 L277.23,956.96 L277.84,957.40 L278.46,957.83 L279.09,958.26 L279.71,958.68 L280.34,959.09 L280.97,959.50 L281.61,959.90 L282.24,960.30 L282.88,960.68 L283.52,961.06 L284.17,961.44 L284.81,961.81 L285.46,962.17 L286.11,962.52 L286.77,962.87 L287.42,963.20 L288.08,963.54 L288.74,963.86 L289.40,964.18 L290.06,964.49 L290.72,964.80 L291.39,965.09 L292.05,965.38 L292.72,965.66 L293.39,965.94 L294.06,966.21 L294.73,966.47 L295.40,966.72 L296.08,966.97 L296.75,967.21 L297.43,967.44 L298.11,967.66 L298.78,967.88 L299.46,968.08 L300.14,968.29 L300.82,968.48 L301.50,968.66 L302.18,968.84 L302.86,969.01 L303.54,969.18 L304.23,969.33 L304.91,969.48 L305.59,969.62 L306.27,969.75 L306.95,969.88 L307.63,969.99 L308.32,970.10 L309.00,970.20 L309.68,970.30 L310.36,970.38 L311.04,970.46 L311.72,970.53 L312.39,970.60 L313.07,970.65 L313.75,970.70 L314.43,970.74 L315.10,970.77 L315.78,970.79 L316.45,970.81 L317.12,970.82 L317.79,970.82 L318.46,970.81 L319.13,970.79 L319.80,970.77 L320.46,970.74 L321.13,970.70 L321.79,970.65 L322.45,970.60 L323.11,970.54 L323.77,970.47 L324.42,970.39 L325.07,970.30 L325.73,970.21 L326.37,970.11 L327.02,970.00 L327.67,969.88 L328.31,969.76 L328.95,969.63 L329.59,969.49 L330.22,969.34 L330.85,969.19 L331.48,969.02 L332.11,968.85 L332.73,968.68 L333.36,968.49 L333.97,968.30 L334.59,968.10 L335.20,967.89 L332.34,960.42 L331.80,960.60 L331.27,960.77 L330.73,960.94 L330.18,961.09 L329.64,961.25 L329.09,961.39 L328.53,961.53 L327.98,961.66 L327.42,961.79 L326.87,961.90 L326.31,962.01 L325.74,962.12 L325.18,962.22 L324.61,962.31 L324.04,962.39 L323.47,962.47 L322.90,962.54 L322.32,962.60 L321.75,962.65 L321.17,962.70 L320.59,962.74 L320.01,962.78 L319.43,962.81 L318.84,962.83 L318.26,962.84 L317.67,962.85 L317.08,962.85 L316.49,962.84 L315.90,962.83 L315.31,962.81 L314.72,962.78 L314.13,962.74 L313.53,962.70 L312.94,962.65 L312.34,962.60 L311.74,962.53 L311.15,962.46 L310.55,962.39 L309.95,962.30 L309.35,962.21 L308.75,962.12 L308.15,962.01 L307.55,961.90 L306.95,961.78 L306.35,961.66 L305.75,961.52 L305.15,961.39 L304.55,961.24 L303.95,961.09 L303.35,960.93 L302.75,960.76 L302.15,960.59 L301.56,960.41 L300.96,960.23 L300.36,960.03 L299.76,959.83 L299.17,959.63 L298.57,959.41 L297.97,959.20 L297.38,958.97 L296.79,958.74 L296.19,958.50 L295.60,958.25 L295.01,958.00 L294.42,957.74 L293.83,957.48 L293.25,957.21 L292.66,956.93 L292.08,956.64 L291.49,956.35 L290.91,956.06 L290.33,955.75 L289.75,955.44 L289.18,955.13 L288.60,954.81 L288.03,954.48 L287.46,954.15 L286.89,953.81 L286.32,953.46 L285.76,953.11 L285.19,952.75 L284.63,952.39 L284.07,952.02 L283.52,951.64 L282.96,951.26 L282.41,950.87 L281.86,950.48 L281.31,950.08 L280.77,949.68 L280.23,949.27 L279.69,948.85 L279.15,948.43 L278.62,948.01 L278.09,947.57 L277.56,947.14 L277.04,946.70 L276.52,946.25 L276.00,945.80 L275.48,945.34 L274.97,944.87 L274.46,944.41 L273.95,943.93 L273.45,943.45 L272.95,942.97 L272.46,942.48 L271.96,941.99 L271.48,941.49 L270.99,940.99 L270.51,940.48 L270.03,939.97 L269.56,939.46 L269.09,938.94 L268.62,938.41 L268.16,937.88 L267.70,937.35 L267.25,936.81 L266.80,936.27 L266.35,935.72 L265.91,935.17 L265.47,934.61 L265.04,934.05 L264.61,933.49 L264.18,932.93 L263.76,932.35 L263.34,931.78 L262.93,931.20 L262.52,930.62 L262.12,930.04 L261.72,929.45 L261.33,928.85 L260.94,928.26 L260.56,927.66 L260.18,927.06 L259.80,926.45 L259.43,925.84 L259.07,925.23 L258.71,924.62 L258.35,924.00 L258.00,923.38 L257.66,922.76 L257.32,922.13 L256.98,921.50 L256.65,920.87 L256.33,920.23 L256.01,919.60 L255.69,918.96 L255.38,918.32 L255.08,917.67 L254.78,917.03 L254.49,916.38 L254.20,915.73 L253.92,915.08 L253.64,914.42 L253.37,913.77 L253.10,913.11 L252.84,912.45 L252.59,911.79 L252.34,911.13 L252.09,910.46 L251.86,909.80 L251.62,909.13 L251.40,908.46 L251.18,907.79 L250.96,907.12 L250.75,906.45 L250.55,905.78 L250.35,905.10 L250.16,904.43 L249.97,903.75 L249.79,903.07 L249.62,902.40 L249.45,901.72 L249.28,901.04 L249.13,900.36 L248.98,899.68 L248.83,899.00 L248.69,898.32 L248.56,897.64 L248.43,896.96 L248.31,896.28 L248.20,895.60 L248.09,894.92 L247.99,894.24 L247.89,893.56 L247.80,892.88 L247.71,892.20 L247.63,891.52 L247.56,890.85 L247.50,890.17 L247.44,889.49 L247.38,888.82 L247.33,888.14 L247.29,887.47 L247.26,886.79 L247.23,886.12 L247.20,885.45 L247.19,884.78 L247.18,884.11 L247.17,883.44 L247.17,882.78 L247.18,882.11 L247.19,881.45 L247.21,880.79 L247.24,880.13 L247.27,879.47 L247.31,878.81 L247.35,878.16 L247.40,877.50 L247.46,876.85 L247.52,876.20 L247.59,875.56 L247.67,874.91 L247.75,874.27 L247.84,873.63 L247.93,872.99 L248.03,872.36 L248.13,871.73 L248.25,871.10 L248.36,870.47 L248.49,869.84 L248.62,869.22 L248.75,868.60 L248.89,867.99 L249.04,867.38 L249.19,866.77 L249.35,866.16 L249.52,865.56 L249.69,864.96 L249.87,864.36 L250.05,863.76 L250.24,863.17 L250.43,862.59 L250.63,862.01 L250.84,861.43 L251.05,860.85 L251.27,860.28 L251.49,859.71 L251.72,859.15 L251.96,858.59 L252.20,858.03 L252.44,857.48 L252.70,856.93 L252.95,856.39 L253.22,855.85 L253.48,855.31 L253.76,854.78 L254.04,854.25 L254.32,853.73 L254.61,853.21 L254.91,852.70 L255.21,852.19 L255.51,851.69 L255.83,851.19 L256.14,850.69 L256.47,850.20 L256.79,849.72 L257.12,849.24 L257.46,848.76 L257.80,848.29 L258.15,847.83 L258.50,847.37 L258.86,846.91 L259.22,846.46 L259.59,846.02 L259.96,845.58 L260.34,845.15 L260.72,844.72 L261.11,844.30 L261.50,843.88 L261.89,843.47 L262.29,843.06 L262.70,842.66 L263.11,842.27 L263.52,841.88 L263.94,841.49 L264.36,841.12 L264.79,840.75 L265.22,840.38 L265.66,840.02 L266.10,839.67 L266.54,839.32 L266.99,838.98 L267.44,838.64 L267.90,838.31 L268.36,837.99 L268.82,837.67 L269.29,837.36 L269.76,837.05 L270.24,836.75 L270.72,836.46 L271.20,836.17 L271.69,835.89 L272.18,835.62 L272.67,835.35 L273.17,835.09 L273.67,834.84 L274.17,834.59 L274.68,834.35 L275.19,834.11 L275.70,833.88 L276.22,833.66 L276.74,833.45 L277.26,833.24 L277.79,833.04 L278.32,832.84 L278.85,832.65 L279.38,832.47 L279.92,832.30 L280.46,832.13 L281.00,831.97 L281.55,831.81 L282.10,831.66 L282.65,831.52 L283.20,831.39 L283.76,831.26 L284.31,831.14 L284.87,831.03 L285.44,830.92 L286.00,830.82 L286.57,830.73 L287.13,830.64 L287.70,830.56 L288.28,830.49 L288.85,830.43 L289.43,830.37 L290.00,830.32 L290.58,830.27 L291.16,830.23 L291.74,830.20 L292.33,830.18 L292.91,830.16 L293.50,830.15 L294.09,830.15 L294.68,830.16 L295.27,830.17 L295.86,830.18 L296.45,830.21 L297.04,830.24 L297.64,830.28 L298.23,830.33 L298.83,830.38 L299.42,830.44 L300.02,830.51 L300.62,830.58 L301.21,830.66 L301.81,830.75 L302.41,830.85 L303.01,830.95 L303.61,831.06 L304.21,831.17 L304.81,831.29 L305.41,831.42 L306.01,831.56 L306.61,831.70 L307.21,831.85 L307.81,832.01 L308.41,832.17 L309.01,832.34 L309.61,832.52 L310.21,832.70 L310.81,832.89 L311.40,833.09 L312.00,833.29 L312.60,833.50 L313.19,833.72 L313.79,833.94 L314.38,834.17 L314.97,834.41 L315.57,834.65 L316.16,834.90 L316.75,835.16 L317.34,835.42 L317.92,835.69 L318.51,835.96 L319.09,836.24 L319.68,836.53 L320.26,836.83 L320.84,837.13 L321.42,837.43 L322.00,837.75 L322.57,838.07 L323.15,838.39 L323.72,838.72 L324.29,839.06 L324.86,839.40 L325.42,839.75 L325.99,840.11 L326.55,840.47 L327.11,840.84 L327.66,841.21 L328.22,841.59 L328.77,841.97 L329.32,842.36 L329.87,842.76 L330.42,843.16 L330.96,843.57 L331.50,843.98 L332.04,844.40 L332.57,844.83 Z" fill="#333" fill-opacity="0.35" stroke="none"/><path d="M336.98,838.15 L336.38,837.68 L335.77,837.22 L335.16,836.76 L334.55,836.31 L333.93,835.87 L333.31,835.43 L332.69,835.00 L332.07,834.58 L331.44,834.16 L330.81,833.75 L330.18,833.34 L329.54,832.94 L328.91,832.55 L328.27,832.17 L327.62,831.79 L326.98,831.42 L326.33,831.05 L325.68,830.70 L325.03,830.34 L324.38,830.00 L323.72,829.66 L323.06,829.33 L322.41,829.01 L321.75,828.70 L321.08,828.39 L320.42,828.09 L319.75,827.79 L319.09,827.51 L318.42,827.23 L317.75,826.95 L317.08,826.69 L316.40,826.43 L315.73,826.18 L315.06,825.94 L314.38,825.70 L313.70,825.47 L313.03,825.25 L312.35,825.04 L311.67,824.84 L310.99,824.64 L310.31,824.45 L309.63,824.26 L308.95,824.09 L308.27,823.92 L307.59,823.76 L306.91,823.61 L306.23,823.46 L305.54,823.33 L304.86,823.20 L304.18,823.08 L303.50,822.96 L302.82,822.86 L302.14,822.76 L301.46,822.67 L300.78,822.58 L300.10,822.51 L299.42,822.44 L298.74,822.38 L298.06,822.33 L297.38,822.29 L296.71,822.25 L296.03,822.22 L295.36,822.20 L294.69,822.19 L294.01,822.18 L293.34,822.19 L292.68,822.20 L292.01,822.21 L291.34,822.24 L290.68,822.27 L290.01,822.32 L289.35,822.37 L288.69,822.42 L288.03,822.49 L287.38,822.56 L286.72,822.64 L286.07,822.73 L285.42,822.83 L284.77,822.93 L284.13,823.04 L283.48,823.16 L282.84,823.29 L282.20,823.43 L281.56,823.57 L280.93,823.72 L280.30,823.88 L279.67,824.04 L279.05,824.22 L278.42,824.40 L277.80,824.58 L277.18,824.78 L276.57,824.98 L275.96,825.19 L275.35,825.41 L274.75,825.64 L274.14,825.87 L273.55,826.11 L272.95,826.36 L272.36,826.62 L271.77,826.88 L271.19,827.15 L270.61,827.43 L270.03,827.71 L269.45,828.01 L268.89,828.30 L268.32,828.61 L267.76,828.92 L267.20,829.25 L266.65,829.57 L266.10,829.91 L265.55,830.25 L265.01,830.60 L264.47,830.95 L263.94,831.32 L263.41,831.69 L262.89,832.06 L262.37,832.45 L261.85,832.83 L261.34,833.23 L260.84,833.63 L260.34,834.04 L259.84,834.46 L259.35,834.88 L258.86,835.31 L258.38,835.75 L257.91,836.19 L257.43,836.64 L256.97,837.09 L256.51,837.55 L256.05,838.02 L255.60,838.49 L255.15,838.97 L254.71,839.46 L254.28,839.95 L253.85,840.45 L253.43,840.95 L253.01,841.46 L252.59,841.98 L252.19,842.50 L251.78,843.02 L251.39,843.55 L251.00,844.09 L250.61,844.64 L250.23,845.18 L249.86,845.74 L249.49,846.30 L249.13,846.86 L248.78,847.43 L248.43,848.01 L248.09,848.59 L247.75,849.17 L247.42,849.76 L247.09,850.36 L246.77,850.96 L246.46,851.56 L246.15,852.17 L245.85,852.78 L245.56,853.40 L245.27,854.02 L244.99,854.65 L244.72,855.28 L244.45,855.92 L244.19,856.56 L243.93,857.21 L243.68,857.85 L243.44,858.51 L243.20,859.16 L242.97,859.83 L242.75,860.49 L242.53,861.16 L242.33,861.83 L242.12,862.51 L241.93,863.19 L241.74,863.87 L241.55,864.56 L241.38,865.24 L241.21,865.94 L241.05,866.63 L240.89,867.33 L240.74,868.04 L240.60,868.74 L240.46,869.45 L240.34,870.16 L240.22,870.87 L240.10,871.59 L239.99,872.31 L239.89,873.03 L239.80,873.76 L239.71,874.48 L239.63,875.21 L239.56,875.94 L239.49,876.68 L239.43,877.41 L239.38,878.15 L239.34,878.89 L239.30,879.63 L239.27,880.37 L239.24,881.12 L239.22,881.86 L239.21,882.61 L239.21,883.36 L239.22,884.11 L239.23,884.86 L239.24,885.62 L239.27,886.37 L239.30,887.13 L239.34,887.88 L239.38,888.64 L239.44,889.40 L239.50,890.16 L239.56,890.92 L239.64,891.68 L239.72,892.44 L239.80,893.20 L239.90,893.96 L240.00,894.72 L240.11,895.48 L240.22,896.25 L240.34,897.01 L240.47,897.77 L240.61,898.53 L240.75,899.29 L240.90,900.05 L241.06,900.82 L241.22,901.58 L241.39,902.34 L241.57,903.10 L241.75,903.85 L241.94,904.61 L242.14,905.37 L242.34,906.12 L242.55,906.88 L242.77,907.63 L242.99,908.39 L243.22,909.14 L243.46,909.89 L243.70,910.64 L243.95,911.38 L244.20,912.13 L244.47,912.87 L244.73,913.62 L245.01,914.36 L245.29,915.10 L245.58,915.83 L245.87,916.57 L246.17,917.30 L246.48,918.03 L246.79,918.76 L247.11,919.49 L247.44,920.21 L247.77,920.93 L248.11,921.65 L248.45,922.36 L248.80,923.08 L249.16,923.79 L249.52,924.49 L249.89,925.20 L250.26,925.90 L250.64,926.60 L251.02,927.29 L251.42,927.99 L251.81,928.67 L252.21,929.36 L252.62,930.04 L253.03,930.72 L253.45,931.39 L253.88,932.06 L254.31,932.73 L254.74,933.40 L255.18,934.05 L255.63,934.71 L256.08,935.36 L256.54,936.01 L257.00,936.65 L257.47,937.29 L257.94,937.93 L258.41,938.56 L258.90,939.18 L259.38,939.80 L259.87,940.42 L260.37,941.03 L260.87,941.64 L261.38,942.24 L261.89,942.84 L262.40,943.44 L262.92,944.02 L263.45,944.61 L263.98,945.19 L264.51,945.76 L265.05,946.33 L265.59,946.89 L266.13,947.45 L266.68,948.00 L267.24,948.55 L267.79,949.09 L268.36,949.62 L268.92,950.15 L269.49,950.68 L270.07,951.20 L270.64,951.71 L271.23,952.22 L271.81,952.72 L272.40,953.21 L272.99,953.70 L273.59,954.19 L274.18,954.66 L274.79,955.13 L275.39,955.60 L276.00,956.06 L276.61,956.51 L277.23,956.96 L277.84,957.40 L278.46,957.83 L279.09,958.26 L279.71,958.68 L280.34,959.09 L280.97,959.50 L281.61,959.90 L282.24,960.30 L282.88,960.68 L283.52,961.06 L284.17,961.44 L284.81,961.81 L285.46,962.17 L286.11,962.52 L286.77,962.87 L287.42,963.20 L288.08,963.54 L288.74,963.86 L289.40,964.18 L290.06,964.49 L290.72,964.80 L291.39,965.09 L292.05,965.38 L292.72,965.66 L293.39,965.94 L294.06,966.21 L294.73,966.47 L295.40,966.72 L296.08,966.97 L296.75,967.21 L297.43,967.44 L298.11,967.66 L298.78,967.88 L299.46,968.08 L300.14,968.29 L300.82,968.48 L301.50,968.66 L302.18,968.84 L302.86,969.01 L303.54,969.18 L304.23,969.33 L304.91,969.48 L305.59,969.62 L306.27,969.75 L306.95,969.88 L307.63,969.99 L308.32,970.10 L309.00,970.20 L309.68,970.30 L310.36,970.38 L311.04,970.46 L311.72,970.53 L312.39,970.60 L313.07,970.65 L313.75,970.70 L314.43,970.74 L315.10,970.77 L315.78,970.79 L316.45,970.81 L317.12,970.82 L317.79,970.82 L318.46,970.81 L319.13,970.79 L319.80,970.77 L320.46,970.74 L321.13,970.70 L321.79,970.65 L322.45,970.60 L323.11,970.54 L323.77,970.47 L324.42,970.39 L325.07,970.30 L325.73,970.21 L326.37,970.11 L327.02,970.00 L327.67,969.88 L328.31,969.76 L328.95,969.63 L329.59,969.49 L330.22,969.34 L330.85,969.19 L331.48,969.02 L332.11,968.85 L332.73,968.68 L333.36,968.49 L333.97,968.30 L334.59,968.10 L335.20,967.89" stroke="#444" stroke-width="1.1" fill="none"/>
<path d="M211.15,923.75 L419.35,818.25 L420.46,817.75 L421.62,817.37 L422.82,817.10 L424.05,816.95 L425.31,816.92 L426.59,817.00 L427.87,817.20 L429.15,817.52 L430.43,817.95 L431.69,818.50 L432.92,819.15 L434.12,819.90 L435.29,820.76 L436.40,821.70 L437.46,822.74 L438.46,823.85 L439.38,825.03 L440.24,826.29 L441.01,827.60 L441.70,828.95 L442.30,830.35 L442.80,831.78 L443.21,833.23 L443.52,834.69 L443.73,836.15 L443.84,837.61 L443.84,839.05 L443.74,840.47 L443.54,841.85 L443.23,843.19 L442.83,844.47 L442.32,845.69 L441.73,846.85 L441.05,847.93 L440.28,848.92 L439.43,849.83 L438.50,850.64 L437.51,851.35 L436.45,851.95 L228.25,957.45 Z" fill="#fff" stroke="none"/><path d="M211.15,923.75 L419.35,818.25" stroke="#5a5a5a" stroke-width="0.95" fill="none"/><path d="M228.25,957.45 L436.45,851.95" stroke="#5a5a5a" stroke-width="0.95" fill="none"/><path d="M419.35,818.25 L420.46,817.75 L421.62,817.37 L422.82,817.10 L424.05,816.95 L425.31,816.92 L426.59,817.00 L427.87,817.20 L429.15,817.52 L430.43,817.95 L431.69,818.50 L432.92,819.15 L434.12,819.90 L435.29,820.76 L436.40,821.70 L437.46,822.74 L438.46,823.85 L439.38,825.03 L440.24,826.29 L441.01,827.60 L441.70,828.95 L442.30,830.35 L442.80,831.78 L443.21,833.23 L443.52,834.69 L443.73,836.15 L443.84,837.61 L443.84,839.05 L443.74,840.47 L443.54,841.85 L443.23,843.19 L442.83,844.47 L442.32,845.69 L441.73,846.85 L441.05,847.93 L440.28,848.92 L439.43,849.83 L438.50,850.64 L437.51,851.35 L436.45,851.95" stroke="#555" stroke-width="1" fill="none"/><path d="M211.15,923.75 L212.25,923.26 L213.39,922.88 L214.57,922.61 L215.79,922.45 L217.03,922.41 L218.29,922.49 L219.56,922.68 L220.82,922.98 L222.08,923.40 L223.33,923.92 L224.55,924.55 L225.74,925.28 L226.90,926.11 L228.01,927.03 L229.06,928.03 L230.06,929.12 L230.99,930.27 L231.85,931.50 L232.63,932.78 L233.33,934.10 L233.95,935.47 L234.47,936.88 L234.90,938.30 L235.24,939.74 L235.48,941.19 L235.61,942.63 L235.65,944.06 L235.59,945.47 L235.42,946.85 L235.16,948.18 L234.80,949.47 L234.34,950.71 L233.79,951.88 L233.15,952.97 L232.43,953.99 L231.62,954.93 L230.74,955.77 L229.79,956.52 L228.78,957.17 L227.71,957.71 L226.59,958.15 L225.42,958.47 L224.22,958.68 L222.99,958.78 L221.74,958.76 L220.48,958.63 L219.21,958.38 L217.94,958.02 L216.69,957.55 L215.46,956.98 L214.25,956.30 L213.07,955.52 L211.94,954.64 L210.86,953.68 L209.83,952.63 L208.87,951.51 L207.97,950.32 L207.15,949.07 L206.41,947.77 L205.75,946.41 L205.18,945.03 L204.70,943.61 L204.32,942.18 L204.03,940.73 L203.84,939.29 L203.75,937.85 L203.77,936.43 L203.88,935.04 L204.10,933.68 L204.41,932.37 L204.82,931.10 L205.32,929.90 L205.92,928.77 L206.60,927.71 L207.37,926.73 L208.21,925.84 L209.12,925.04 L210.11,924.34 L211.15,923.75 Z" fill="#fff" stroke="#555" stroke-width="1"/><path d="M304.90,900.60 L340.00,882.20 L338.20,879.60 L350.00,884.90 L339.30,896.80 L305.70,912.80 Z" fill="#fff" stroke="#555" stroke-width="1" stroke-linejoin="miter"/><path d="M305.7,912.8 L339.3,896.8 L350,884.9 L338.2,879.6" stroke="#2a2a2a" stroke-width="1.4" fill="none"/>
<path d="M342.02,828.85 L342.77,829.37 L343.53,829.91 L344.27,830.45 L345.01,831.00 L345.75,831.56 L346.48,832.13 L347.21,832.71 L347.93,833.29 L348.65,833.88 L349.36,834.48 L350.07,835.08 L350.77,835.70 L351.47,836.32 L352.16,836.95 L352.84,837.58 L353.52,838.22 L354.20,838.87 L354.86,839.53 L355.53,840.19 L356.18,840.86 L356.83,841.54 L357.48,842.23 L358.11,842.92 L358.75,843.61 L359.37,844.32 L359.99,845.03 L360.60,845.74 L361.21,846.47 L361.81,847.20 L362.40,847.93 L362.99,848.67 L363.57,849.42 L364.14,850.17 L364.70,850.93 L365.26,851.69 L365.81,852.46 L366.36,853.24 L366.89,854.02 L367.42,854.80 L367.94,855.59 L368.46,856.39 L368.96,857.19 L369.46,857.99 L369.95,858.80 L370.44,859.62 L370.91,860.43 L371.38,861.26 L371.84,862.09 L372.29,862.92 L372.74,863.75 L373.17,864.59 L373.60,865.44 L374.02,866.28 L374.43,867.14 L374.84,867.99 L375.23,868.85 L375.62,869.71 L376.00,870.58 L376.37,871.44 L376.73,872.31 L377.08,873.19 L377.42,874.07 L377.76,874.95 L378.09,875.83 L378.41,876.71 L378.71,877.60 L379.02,878.49 L379.31,879.38 L379.59,880.28 L379.86,881.17 L380.13,882.07 L380.39,882.97 L380.63,883.87 L380.87,884.77 L381.10,885.68 L381.32,886.58 L381.53,887.49 L381.73,888.40 L381.93,889.31 L382.11,890.22 L382.29,891.13 L382.45,892.04 L382.61,892.95 L382.75,893.87 L382.89,894.78 L383.02,895.69 L383.14,896.60 L383.25,897.52 L383.35,898.43 L383.44,899.34 L383.52,900.26 L383.59,901.17 L383.65,902.08 L383.71,902.99 L383.75,903.90 L383.79,904.81 L383.81,905.72 L383.83,906.62 L383.83,907.53 L383.83,908.43 L383.82,909.34 L383.80,910.24 L383.77,911.14 L383.72,912.04 L383.67,912.93 L383.61,913.83 L383.55,914.72 L383.47,915.61 L383.38,916.49 L383.28,917.38 L383.18,918.26 L383.06,919.14 L382.94,920.02 L382.80,920.89 L382.66,921.76 L382.51,922.63 L382.34,923.50 L382.17,924.36 L381.99,925.22 L381.80,926.07 L381.60,926.92 L381.40,927.77 L381.18,928.61 L380.95,929.45 L380.72,930.29 L380.47,931.12 L380.22,931.95 L379.96,932.77 L379.69,933.59 L379.41,934.41 L379.12,935.22 L378.82,936.02 L378.51,936.82 L378.20,937.62 L377.88,938.41 L377.54,939.19 L377.20,939.97 L376.85,940.74 L376.49,941.51 L376.13,942.28 L375.75,943.04 L375.37,943.79 L374.98,944.53 L374.57,945.28 L374.17,946.01 L373.75,946.74 L373.32,947.46 L372.89,948.18 L372.45,948.89 L372.00,949.59 L371.54,950.29 L371.08,950.98 L370.60,951.66 L370.12,952.34 L369.63,953.01 L369.14,953.68 L368.63,954.33 L368.12,954.98 L367.60,955.63 L367.08,956.26 L366.54,956.89 L366.00,957.51 L365.45,958.12 L364.90,958.73 L364.34,959.33 L363.77,959.92 L363.19,960.50 L362.61,961.07 L362.02,961.64 L361.42,962.20 L360.82,962.75 L360.21,963.30 L359.59,963.83 L358.97,964.36 L358.34,964.88 L357.70,965.39 L357.06,965.89 L356.41,966.38 L355.76,966.86 L355.10,967.34 L354.43,967.81 L353.76,968.27 L353.08,968.72 L352.40,969.16 L351.71,969.59 L351.01,970.01 L350.31,970.43 L349.61,970.83 L348.90,971.23 L348.18,971.62 L347.46,972.00 L346.74,972.37 L346.01,972.72 L345.27,973.08 L344.53,973.42 L343.79,973.75 L343.04,974.07 L342.28,974.38 L341.53,974.69 L337.36,964.93 L337.97,964.67 L338.59,964.40 L339.19,964.12 L339.80,963.83 L340.40,963.54 L341.00,963.23 L341.59,962.92 L342.18,962.60 L342.76,962.28 L343.34,961.94 L343.92,961.60 L344.49,961.25 L345.05,960.89 L345.61,960.52 L346.17,960.14 L346.72,959.76 L347.27,959.37 L347.81,958.97 L348.34,958.57 L348.87,958.16 L349.40,957.74 L349.92,957.31 L350.43,956.87 L350.94,956.43 L351.45,955.98 L351.94,955.52 L352.44,955.06 L352.92,954.59 L353.40,954.11 L353.88,953.63 L354.35,953.13 L354.81,952.63 L355.27,952.13 L355.72,951.62 L356.17,951.10 L356.61,950.57 L357.04,950.04 L357.47,949.50 L357.89,948.95 L358.30,948.40 L358.71,947.84 L359.11,947.28 L359.51,946.71 L359.90,946.13 L360.28,945.55 L360.65,944.96 L361.02,944.37 L361.38,943.77 L361.74,943.16 L362.09,942.55 L362.43,941.93 L362.76,941.31 L363.09,940.68 L363.41,940.05 L363.73,939.41 L364.03,938.76 L364.33,938.12 L364.62,937.46 L364.91,936.80 L365.19,936.14 L365.46,935.47 L365.72,934.80 L365.98,934.12 L366.23,933.43 L366.47,932.75 L366.70,932.06 L366.93,931.36 L367.15,930.66 L367.36,929.95 L367.57,929.25 L367.76,928.53 L367.95,927.82 L368.14,927.10 L368.31,926.37 L368.48,925.65 L368.64,924.91 L368.79,924.18 L368.93,923.44 L369.07,922.70 L369.20,921.96 L369.32,921.21 L369.43,920.46 L369.54,919.71 L369.63,918.95 L369.72,918.19 L369.81,917.43 L369.88,916.67 L369.95,915.90 L370.01,915.13 L370.06,914.36 L370.10,913.59 L370.13,912.81 L370.16,912.03 L370.18,911.25 L370.19,910.47 L370.20,909.69 L370.19,908.91 L370.18,908.12 L370.16,907.33 L370.14,906.54 L370.10,905.75 L370.06,904.96 L370.01,904.17 L369.95,903.38 L369.88,902.59 L369.81,901.79 L369.73,901.00 L369.64,900.20 L369.54,899.40 L369.43,898.61 L369.32,897.81 L369.20,897.01 L369.07,896.22 L368.93,895.42 L368.79,894.62 L368.64,893.83 L368.48,893.03 L368.31,892.24 L368.14,891.44 L367.96,890.65 L367.77,889.85 L367.57,889.06 L367.37,888.27 L367.15,887.48 L366.94,886.69 L366.71,885.90 L366.47,885.11 L366.23,884.32 L365.98,883.54 L365.73,882.76 L365.46,881.97 L365.19,881.19 L364.91,880.42 L364.63,879.64 L364.34,878.87 L364.04,878.09 L363.73,877.33 L363.42,876.56 L363.10,875.79 L362.77,875.03 L362.43,874.27 L362.09,873.51 L361.74,872.76 L361.39,872.01 L361.03,871.26 L360.66,870.52 L360.28,869.77 L359.90,869.03 L359.51,868.30 L359.12,867.57 L358.72,866.84 L358.31,866.11 L357.89,865.39 L357.47,864.68 L357.05,863.96 L356.61,863.25 L356.17,862.55 L355.73,861.84 L355.28,861.15 L354.82,860.45 L354.36,859.77 L353.89,859.08 L353.41,858.40 L352.93,857.73 L352.44,857.06 L351.95,856.39 L351.45,855.73 L350.95,855.07 L350.44,854.42 L349.93,853.78 L349.41,853.14 L348.88,852.50 L348.35,851.87 L347.82,851.25 L347.27,850.63 L346.73,850.02 L346.18,849.41 L345.62,848.81 L345.06,848.21 L344.50,847.62 L343.93,847.04 L343.35,846.46 L342.77,845.89 L342.19,845.32 L341.60,844.76 L341.01,844.21 L340.41,843.66 L339.81,843.12 L339.21,842.58 L338.60,842.06 L337.98,841.53 L337.37,841.02 L336.74,840.51 L336.12,840.01 L335.49,839.52 L334.86,839.03 L334.22,838.55 L333.58,838.08 L332.94,837.61 Z" fill="#fff" stroke="none"/><path d="M342.02,828.85 L342.77,829.37 L343.53,829.91 L344.27,830.45 L345.01,831.00 L345.75,831.56 L346.48,832.13 L347.21,832.71 L347.93,833.29 L348.65,833.88 L349.36,834.48 L350.07,835.08 L350.77,835.70 L351.47,836.32 L352.16,836.95 L352.84,837.58 L353.52,838.22 L354.20,838.87 L354.86,839.53 L355.53,840.19 L356.18,840.86 L356.83,841.54 L357.48,842.23 L358.11,842.92 L358.75,843.61 L359.37,844.32 L359.99,845.03 L360.60,845.74 L361.21,846.47 L361.81,847.20 L362.40,847.93 L362.99,848.67 L363.57,849.42 L364.14,850.17 L364.70,850.93 L365.26,851.69 L365.81,852.46 L366.36,853.24 L366.89,854.02 L367.42,854.80 L367.94,855.59 L368.46,856.39 L368.96,857.19 L369.46,857.99 L369.95,858.80 L370.44,859.62 L370.91,860.43 L371.38,861.26 L371.84,862.09 L372.29,862.92 L372.74,863.75 L373.17,864.59 L373.60,865.44 L374.02,866.28 L374.43,867.14 L374.84,867.99 L375.23,868.85 L375.62,869.71 L376.00,870.58 L376.37,871.44 L376.73,872.31 L377.08,873.19 L377.42,874.07 L377.76,874.95 L378.09,875.83 L378.41,876.71 L378.71,877.60 L379.02,878.49 L379.31,879.38 L379.59,880.28 L379.86,881.17 L380.13,882.07 L380.39,882.97 L380.63,883.87 L380.87,884.77 L381.10,885.68 L381.32,886.58 L381.53,887.49 L381.73,888.40 L381.93,889.31 L382.11,890.22 L382.29,891.13 L382.45,892.04 L382.61,892.95 L382.75,893.87 L382.89,894.78 L383.02,895.69 L383.14,896.60 L383.25,897.52 L383.35,898.43 L383.44,899.34 L383.52,900.26 L383.59,901.17 L383.65,902.08 L383.71,902.99 L383.75,903.90 L383.79,904.81 L383.81,905.72 L383.83,906.62 L383.83,907.53 L383.83,908.43 L383.82,909.34 L383.80,910.24 L383.77,911.14 L383.72,912.04 L383.67,912.93 L383.61,913.83 L383.55,914.72 L383.47,915.61 L383.38,916.49 L383.28,917.38 L383.18,918.26 L383.06,919.14 L382.94,920.02 L382.80,920.89 L382.66,921.76 L382.51,922.63 L382.34,923.50 L382.17,924.36 L381.99,925.22 L381.80,926.07 L381.60,926.92 L381.40,927.77 L381.18,928.61 L380.95,929.45 L380.72,930.29 L380.47,931.12 L380.22,931.95 L379.96,932.77 L379.69,933.59 L379.41,934.41 L379.12,935.22 L378.82,936.02 L378.51,936.82 L378.20,937.62 L377.88,938.41 L377.54,939.19 L377.20,939.97 L376.85,940.74 L376.49,941.51 L376.13,942.28 L375.75,943.04 L375.37,943.79 L374.98,944.53 L374.57,945.28 L374.17,946.01 L373.75,946.74 L373.32,947.46 L372.89,948.18 L372.45,948.89 L372.00,949.59 L371.54,950.29 L371.08,950.98 L370.60,951.66 L370.12,952.34 L369.63,953.01 L369.14,953.68 L368.63,954.33 L368.12,954.98 L367.60,955.63 L367.08,956.26 L366.54,956.89 L366.00,957.51 L365.45,958.12 L364.90,958.73 L364.34,959.33 L363.77,959.92 L363.19,960.50 L362.61,961.07 L362.02,961.64 L361.42,962.20 L360.82,962.75 L360.21,963.30 L359.59,963.83 L358.97,964.36 L358.34,964.88 L357.70,965.39 L357.06,965.89 L356.41,966.38 L355.76,966.86 L355.10,967.34 L354.43,967.81 L353.76,968.27 L353.08,968.72 L352.40,969.16 L351.71,969.59 L351.01,970.01 L350.31,970.43 L349.61,970.83 L348.90,971.23 L348.18,971.62 L347.46,972.00 L346.74,972.37 L346.01,972.72 L345.27,973.08 L344.53,973.42 L343.79,973.75 L343.04,974.07 L342.28,974.38 L341.53,974.69" stroke="#333" stroke-width="1.5" fill="none"/><path d="M332.94,837.61 L333.58,838.08 L334.22,838.55 L334.86,839.03 L335.49,839.52 L336.12,840.01 L336.74,840.51 L337.37,841.02 L337.98,841.53 L338.60,842.06 L339.21,842.58 L339.81,843.12 L340.41,843.66 L341.01,844.21 L341.60,844.76 L342.19,845.32 L342.77,845.89 L343.35,846.46 L343.93,847.04 L344.50,847.62 L345.06,848.21 L345.62,848.81 L346.18,849.41 L346.73,850.02 L347.27,850.63 L347.82,851.25 L348.35,851.87 L348.88,852.50 L349.41,853.14 L349.93,853.78 L350.44,854.42 L350.95,855.07 L351.45,855.73 L351.95,856.39 L352.44,857.06 L352.93,857.73 L353.41,858.40 L353.89,859.08 L354.36,859.77 L354.82,860.45 L355.28,861.15 L355.73,861.84 L356.17,862.55 L356.61,863.25 L357.05,863.96 L357.47,864.68 L357.89,865.39 L358.31,866.11 L358.72,866.84 L359.12,867.57 L359.51,868.30 L359.90,869.03 L360.28,869.77 L360.66,870.52 L361.03,871.26 L361.39,872.01 L361.74,872.76 L362.09,873.51 L362.43,874.27 L362.77,875.03 L363.10,875.79 L363.42,876.56 L363.73,877.33 L364.04,878.09 L364.34,878.87 L364.63,879.64 L364.91,880.42 L365.19,881.19 L365.46,881.97 L365.73,882.76 L365.98,883.54 L366.23,884.32 L366.47,885.11 L366.71,885.90 L366.94,886.69 L367.15,887.48 L367.37,888.27 L367.57,889.06 L367.77,889.85 L367.96,890.65 L368.14,891.44 L368.31,892.24 L368.48,893.03 L368.64,893.83 L368.79,894.62 L368.93,895.42 L369.07,896.22 L369.20,897.01 L369.32,897.81 L369.43,898.61 L369.54,899.40 L369.64,900.20 L369.73,901.00 L369.81,901.79 L369.88,902.59 L369.95,903.38 L370.01,904.17 L370.06,904.96 L370.10,905.75 L370.14,906.54 L370.16,907.33 L370.18,908.12 L370.19,908.91 L370.20,909.69 L370.19,910.47 L370.18,911.25 L370.16,912.03 L370.13,912.81 L370.10,913.59 L370.06,914.36 L370.01,915.13 L369.95,915.90 L369.88,916.67 L369.81,917.43 L369.72,918.19 L369.63,918.95 L369.54,919.71 L369.43,920.46 L369.32,921.21 L369.20,921.96 L369.07,922.70 L368.93,923.44 L368.79,924.18 L368.64,924.91 L368.48,925.65 L368.31,926.37 L368.14,927.10 L367.95,927.82 L367.76,928.53 L367.57,929.25 L367.36,929.95 L367.15,930.66 L366.93,931.36 L366.70,932.06 L366.47,932.75 L366.23,933.43 L365.98,934.12 L365.72,934.80 L365.46,935.47 L365.19,936.14 L364.91,936.80 L364.62,937.46 L364.33,938.12 L364.03,938.76 L363.73,939.41 L363.41,940.05 L363.09,940.68 L362.76,941.31 L362.43,941.93 L362.09,942.55 L361.74,943.16 L361.38,943.77 L361.02,944.37 L360.65,944.96 L360.28,945.55 L359.90,946.13 L359.51,946.71 L359.11,947.28 L358.71,947.84 L358.30,948.40 L357.89,948.95 L357.47,949.50 L357.04,950.04 L356.61,950.57 L356.17,951.10 L355.72,951.62 L355.27,952.13 L354.81,952.63 L354.35,953.13 L353.88,953.63 L353.40,954.11 L352.92,954.59 L352.44,955.06 L351.94,955.52 L351.45,955.98 L350.94,956.43 L350.43,956.87 L349.92,957.31 L349.40,957.74 L348.87,958.16 L348.34,958.57 L347.81,958.97 L347.27,959.37 L346.72,959.76 L346.17,960.14 L345.61,960.52 L345.05,960.89 L344.49,961.25 L343.92,961.60 L343.34,961.94 L342.76,962.28 L342.18,962.60 L341.59,962.92 L341.00,963.23 L340.40,963.54 L339.80,963.83 L339.19,964.12 L338.59,964.40 L337.97,964.67 L337.36,964.93" stroke="#555" stroke-width="1.1" fill="none"/><path d="M338.84,831.91 L339.56,832.42 L340.27,832.93 L340.98,833.45 L341.68,833.98 L342.38,834.52 L343.07,835.06 L343.76,835.62 L344.45,836.17 L345.13,836.74 L345.81,837.31 L346.48,837.90 L347.14,838.48 L347.81,839.08 L348.46,839.68 L349.11,840.29 L349.76,840.91 L350.40,841.53 L351.04,842.16 L351.67,842.79 L352.29,843.44 L352.91,844.08 L353.52,844.74 L354.13,845.40 L354.73,846.07 L355.33,846.74 L355.92,847.42 L356.50,848.11 L357.08,848.80 L357.65,849.50 L358.22,850.20 L358.77,850.91 L359.33,851.63 L359.87,852.35 L360.41,853.07 L360.95,853.80 L361.47,854.54 L361.99,855.28 L362.50,856.03 L363.01,856.78 L363.51,857.54 L364.00,858.30 L364.49,859.06 L364.96,859.83 L365.44,860.61 L365.90,861.39 L366.36,862.17 L366.81,862.96 L367.25,863.75 L367.68,864.54 L368.11,865.34 L368.53,866.15 L368.94,866.95 L369.34,867.77 L369.74,868.58 L370.13,869.40 L370.51,870.22 L370.88,871.04 L371.25,871.87 L371.61,872.70 L371.96,873.53 L372.30,874.37 L372.63,875.21 L372.96,876.05 L373.27,876.89 L373.58,877.74 L373.88,878.59 L374.18,879.44 L374.46,880.29 L374.74,881.14 L375.01,882.00 L375.27,882.86 L375.52,883.72 L375.76,884.58 L375.99,885.44 L376.22,886.31 L376.44,887.17 L376.65,888.04 L376.85,888.91 L377.04,889.78 L377.22,890.65 L377.40,891.52 L377.56,892.39 L377.72,893.26 L377.87,894.13 L378.01,895.00 L378.14,895.88 L378.26,896.75 L378.37,897.62 L378.48,898.49 L378.57,899.36 L378.66,900.24 L378.74,901.11 L378.81,901.98 L378.87,902.85 L378.92,903.72 L378.96,904.59 L379.00,905.45 L379.02,906.32 L379.04,907.18 L379.05,908.05 L379.05,908.91 L379.04,909.77 L379.02,910.63 L378.99,911.49 L378.95,912.34 L378.91,913.20 L378.85,914.05 L378.79,914.90 L378.72,915.75 L378.64,916.59 L378.55,917.43 L378.45,918.27 L378.34,919.11 L378.22,919.95 L378.10,920.78 L377.97,921.61 L377.82,922.43 L377.67,923.26 L377.51,924.08 L377.35,924.89 L377.17,925.70 L376.98,926.51 L376.79,927.32 L376.59,928.12 L376.38,928.92 L376.16,929.71 L375.93,930.50 L375.69,931.29 L375.45,932.07 L375.19,932.85 L374.93,933.62 L374.66,934.39 L374.38,935.15 L374.09,935.91 L373.80,936.67 L373.50,937.41 L373.18,938.16 L372.86,938.90 L372.54,939.63 L372.20,940.36 L371.86,941.08 L371.50,941.80 L371.15,942.52 L370.78,943.22 L370.40,943.92 L370.02,944.62 L369.63,945.31 L369.23,945.99 L368.82,946.67 L368.41,947.34 L367.99,948.01 L367.56,948.67 L367.12,949.32 L366.68,949.96 L366.23,950.60 L365.77,951.24 L365.30,951.86 L364.83,952.48 L364.35,953.10 L363.86,953.70 L363.37,954.30 L362.87,954.89 L362.36,955.48 L361.84,956.06 L361.32,956.63 L360.79,957.19 L360.26,957.75 L359.72,958.30 L359.17,958.84 L358.61,959.37 L358.05,959.90 L357.49,960.41 L356.91,960.92 L356.33,961.43 L355.75,961.92 L355.16,962.41 L354.56,962.88 L353.96,963.35 L353.35,963.82 L352.73,964.27 L352.11,964.72 L351.49,965.15 L350.85,965.58 L350.22,966.00 L349.57,966.42 L348.93,966.82 L348.27,967.21 L347.62,967.60 L346.95,967.98 L346.29,968.35 L345.61,968.71 L344.94,969.06 L344.25,969.40 L343.57,969.74 L342.88,970.06 L342.18,970.38 L341.48,970.68 L340.77,970.98 L340.07,971.27" stroke="#777" stroke-width="0.8" fill="none"/><path d="M336.39,834.28 L337.08,834.77 L337.76,835.27 L338.44,835.77 L339.11,836.28 L339.78,836.80 L340.44,837.33 L341.11,837.86 L341.76,838.40 L342.42,838.95 L343.06,839.50 L343.71,840.06 L344.35,840.63 L344.98,841.21 L345.61,841.79 L346.24,842.38 L346.86,842.97 L347.47,843.58 L348.08,844.18 L348.69,844.80 L349.29,845.42 L349.88,846.05 L350.47,846.68 L351.06,847.32 L351.63,847.96 L352.21,848.62 L352.77,849.27 L353.34,849.93 L353.89,850.60 L354.44,851.28 L354.99,851.96 L355.52,852.64 L356.06,853.33 L356.58,854.03 L357.10,854.73 L357.62,855.43 L358.12,856.14 L358.63,856.86 L359.12,857.58 L359.61,858.31 L360.09,859.04 L360.57,859.77 L361.03,860.51 L361.50,861.25 L361.95,862.00 L362.40,862.75 L362.84,863.51 L363.28,864.27 L363.70,865.03 L364.12,865.80 L364.54,866.57 L364.94,867.35 L365.34,868.13 L365.74,868.91 L366.12,869.69 L366.50,870.48 L366.87,871.27 L367.23,872.07 L367.59,872.87 L367.94,873.67 L368.28,874.47 L368.61,875.28 L368.93,876.09 L369.25,876.90 L369.56,877.71 L369.86,878.53 L370.16,879.35 L370.45,880.17 L370.72,880.99 L371.00,881.81 L371.26,882.64 L371.51,883.47 L371.76,884.30 L372.00,885.13 L372.23,885.96 L372.45,886.79 L372.67,887.63 L372.88,888.46 L373.08,889.30 L373.27,890.14 L373.45,890.98 L373.62,891.82 L373.79,892.66 L373.95,893.50 L374.10,894.34 L374.24,895.18 L374.37,896.02 L374.50,896.86 L374.61,897.70 L374.72,898.54 L374.82,899.38 L374.91,900.22 L374.99,901.06 L375.07,901.90 L375.14,902.74 L375.19,903.58 L375.24,904.41 L375.28,905.25 L375.32,906.08 L375.34,906.92 L375.36,907.75 L375.36,908.58 L375.36,909.41 L375.35,910.24 L375.34,911.07 L375.31,911.89 L375.27,912.71 L375.23,913.53 L375.18,914.35 L375.12,915.17 L375.05,915.98 L374.97,916.80 L374.89,917.61 L374.80,918.41 L374.69,919.22 L374.58,920.02 L374.46,920.82 L374.34,921.61 L374.20,922.41 L374.06,923.20 L373.91,923.98 L373.75,924.76 L373.58,925.54 L373.40,926.32 L373.22,927.09 L373.03,927.86 L372.82,928.63 L372.62,929.39 L372.40,930.14 L372.17,930.90 L371.94,931.65 L371.70,932.39 L371.45,933.13 L371.19,933.87 L370.93,934.60 L370.65,935.32 L370.37,936.04 L370.08,936.76 L369.79,937.47 L369.48,938.18 L369.17,938.88 L368.85,939.58 L368.53,940.27 L368.19,940.96 L367.85,941.64 L367.50,942.31 L367.14,942.98 L366.78,943.65 L366.40,944.31 L366.02,944.96 L365.64,945.60 L365.24,946.25 L364.84,946.88 L364.43,947.51 L364.02,948.13 L363.60,948.75 L363.17,949.36 L362.73,949.96 L362.29,950.56 L361.84,951.15 L361.38,951.73 L360.92,952.31 L360.45,952.88 L359.97,953.44 L359.49,954.00 L359.00,954.55 L358.50,955.09 L358.00,955.62 L357.49,956.15 L356.97,956.67 L356.45,957.19 L355.92,957.69 L355.39,958.19 L354.85,958.68 L354.30,959.16 L353.75,959.64 L353.19,960.11 L352.63,960.57 L352.06,961.02 L351.49,961.47 L350.91,961.90 L350.32,962.33 L349.73,962.75 L349.14,963.17 L348.54,963.57 L347.93,963.97 L347.32,964.35 L346.70,964.74 L346.08,965.11 L345.45,965.47 L344.82,965.83 L344.19,966.17 L343.55,966.51 L342.90,966.84 L342.25,967.16 L341.60,967.47 L340.94,967.78 L340.28,968.07 L339.61,968.36 L338.94,968.64" stroke="#777" stroke-width="0.8" fill="none"/><path d="M333.9,846.5 L333.9,828 L343.1,822.2 L343.1,828.8 L338,846.5 Z" fill="#fff" stroke="none"/><path d="M333.9,846.5 L333.9,828 L343.1,822.2 L343.1,828.8" stroke="#222" stroke-width="1.3" fill="none"/><path d="M333.6,962.7 L333.6,982.9 L342.1,979.6 L343.1,975.4 L338,962.7 Z" fill="#fff" stroke="none"/><path d="M333.6,962.7 L333.6,982.9 L342.1,979.6 L343.1,975.4" stroke="#222" stroke-width="1.3" fill="none"/>
<path d="M333.5,846.9 L458,846.9 M333.5,962.8 L458,962.8" stroke="#1e1e1e" stroke-width="2.6" fill="none"/>
<rect x="456.8" y="804.9" width="130.6" height="5.1" fill="#222"/>
<rect x="456.8" y="985.7" width="130.6" height="5.7" fill="#222"/>
<rect x="456.8" y="804.9" width="4.2" height="186.5" fill="#222"/>
<rect x="583.2" y="804.9" width="4.2" height="186.5" fill="#222"/>
<path d="M411.9,949.2 L418.1,949.2 L418.1,937.7 L421.4,937.7 L421.4,949.2 L426.8,949.2 L426.8,937.7 L431.7,937.7 L431.7,949.2 L437.5,949.2 L437.5,937.7 L440.8,937.7 L440.8,949.2 L446.1,949.2" stroke="#777" stroke-width="1" fill="none"/>
<path d="M327,811.8 Q333,792 351.8,788.2" stroke="#555" stroke-width="0.9" fill="none"/>
<path d="M521.3,805.4 Q528,782 548.6,776.2" stroke="#555" stroke-width="0.9" fill="none"/>
<path d="M621,749.8 Q630,726 649.3,721.6" stroke="#555" stroke-width="0.9" fill="none"/>
<g font-family="Liberation Serif" fill="#1e1e1e" stroke="#1e1e1e" stroke-width="0.9">
<text transform="translate(289,805.3) scale(0.76,1)" font-size="28">Le</text>
<text transform="translate(357.3,795.3) scale(0.76,1)" font-size="28">1</text>
<text transform="translate(335.3,943.5) scale(0.86,1)" font-size="27.5">Te</text>
<text transform="translate(553,784.6) scale(0.76,1)" font-size="28">2</text>
<text transform="translate(604,775) scale(0.78,1)" font-size="28">100</text>
</g>
<text x="394" y="807.8" font-family="Liberation Serif" font-style="italic" font-size="19" fill="#555">I</text>
<text x="401" y="812.4" font-family="Liberation Serif" font-style="italic" font-size="12.5" fill="#777">d</text>
</svg>
<div class="t" style="left:531.60px;top:53.83px;font-size:13.7px;letter-spacing:0.025px;">US012487257B2</div>
<div class="t" style="left:109.50px;top:103.58px;font-size:12.2px;letter-spacing:-0.153px;">(12)</div>
<div class="t b" style="left:138.10px;top:93.06px;font-size:25px;word-spacing:0.934px;">United States Patent</div>
<div class="t b" style="left:137.80px;top:119.76px;font-size:17px;letter-spacing:-0.063px;">Tian et al.</div>
<div class="t" style="left:450.30px;top:104.28px;font-size:12.2px;">(10)</div>
<div class="t b" style="left:478.20px;top:100.26px;font-size:17px;letter-spacing:-0.223px;">Patent No.:</div>
<div class="t b" style="left:587.50px;top:97.45px;font-size:20px;letter-spacing:-0.269px;">US 12,487,257 B2</div>
<div class="t" style="left:450.30px;top:123.98px;font-size:12.2px;">(45)</div>
<div class="t b" style="left:477.60px;top:119.96px;font-size:17px;letter-spacing:-0.061px;">Date of Patent:</div>
<div class="t b" style="left:645.00px;top:119.76px;font-size:17px;letter-spacing:-0.190px;">Dec. 2, 2025</div>
<div class="t" style="left:109.50px;top:164.53px;font-size:12.5px;letter-spacing:-0.207px;">(54)</div>
<div class="t b" style="left:143.00px;top:164.53px;font-size:12.5px;word-spacing:0.465px;">FLUXGATE CURRENT SENSOR AND</div>
<div class="t b" style="left:143.00px;top:177.23px;font-size:12.5px;word-spacing:0.219px;">CURRENT MEASUREMENT METHOD</div>
<div class="t" style="left:109.50px;top:203.73px;font-size:12.5px;letter-spacing:-0.207px;">(71)</div>
<div class="t" style="left:142.20px;top:203.73px;font-size:12.5px;letter-spacing:-0.317px;">Applicant:</div>
<div class="t" style="left:201.00px;top:203.73px;font-size:12.5px;word-spacing:0.262px;"><b>Shenzhen Hangzhi Precision</b></div>
<div class="t" style="left:201.00px;top:216.83px;font-size:12.5px;word-spacing:0.671px;"><b>Electronics Co., Ltd.</b>, Shenzhen (CN)</div>
<div class="t" style="left:109.50px;top:243.03px;font-size:12.5px;letter-spacing:-0.207px;">(72)</div>
<div class="t" style="left:142.20px;top:243.03px;font-size:12.5px;letter-spacing:-0.039px;">Inventors:</div>
<div class="t" style="left:201.00px;top:243.03px;font-size:12.5px;word-spacing:0.571px;"><b>Xinliang Tian</b>, Shenzhen (CN);</div>
<div class="t" style="left:201.00px;top:256.91px;font-size:12.5px;word-spacing:0.650px;"><b>Zhouyang Wan</b>, Shenzhen (CN);</div>
<div class="t" style="left:201.00px;top:270.79px;font-size:12.5px;word-spacing:0.577px;"><b>Yongliang Ding</b>, Shenzhen (CN);</div>
<div class="t" style="left:201.00px;top:284.67px;font-size:12.5px;word-spacing:0.731px;"><b>Baichi Yao</b>, Shenzhen (CN); <b>Liang</b></div>
<div class="t" style="left:201.00px;top:298.55px;font-size:12.5px;word-spacing:0.657px;"><b>Liu</b>, Shenzhen (CN); <b>Chuncai Ye</b>,</div>
<div class="t" style="left:201.00px;top:312.43px;font-size:12.5px;word-spacing:0.795px;">Shenzhen (CN); <b>Wei Fu</b>, Shenzhen</div>
<div class="t" style="left:201.00px;top:326.31px;font-size:12.5px;letter-spacing:-0.126px;">(CN)</div>
<div class="t" style="left:109.50px;top:352.83px;font-size:12.5px;letter-spacing:-0.207px;">(73)</div>
<div class="t" style="left:142.40px;top:352.83px;font-size:12.5px;letter-spacing:-0.079px;">Assignee:</div>
<div class="t" style="left:201.20px;top:352.83px;font-size:12.5px;word-spacing:0.062px;"><b>Shenzhen Hangzhi Precision</b></div>
<div class="t" style="left:201.20px;top:366.83px;font-size:12.5px;word-spacing:0.646px;"><b>Electronics Co., Ltd.</b>, Shenzhen (CN)</div>
<div class="t" style="left:109.50px;top:392.93px;font-size:12.5px;letter-spacing:-0.146px;">(&nbsp;*&nbsp;)</div>
<div class="t" style="left:142.40px;top:392.93px;font-size:12.5px;letter-spacing:-0.114px;">Notice:</div>
<div class="t" style="left:201.20px;top:392.93px;font-size:12.5px;letter-spacing:-0.039px;">Subject to any disclaimer, the term of this</div>
<div class="t" style="left:201.20px;top:406.63px;font-size:12.5px;word-spacing:1.836px;">patent is extended or adjusted under 35</div>
<div class="t" style="left:201.20px;top:420.43px;font-size:12.5px;word-spacing:0.747px;">U.S.C. 154(b) by 237 days.</div>
<div class="t" style="left:109.50px;top:446.83px;font-size:12.5px;letter-spacing:-0.207px;">(21)</div>
<div class="t" style="left:142.40px;top:446.83px;font-size:12.5px;letter-spacing:-0.022px;">Appl. No.:</div>
<div class="t" style="left:201.20px;top:446.83px;font-size:12.5px;letter-spacing:-0.111px;"><b>18/210,209</b></div>
<div class="t" style="left:109.50px;top:472.83px;font-size:12.5px;letter-spacing:-0.207px;">(22)</div>
<div class="t" style="left:142.40px;top:472.83px;font-size:12.5px;letter-spacing:-0.095px;">Filed:</div>
<div class="t" style="left:201.20px;top:472.83px;font-size:12.5px;word-spacing:0.322px;"><b>Jun. 15, 2023</b></div>
<div class="t" style="left:109.50px;top:499.43px;font-size:12.5px;letter-spacing:-0.207px;">(65)</div>
<div class="t" style="left:214.40px;top:499.43px;font-size:12.5px;word-spacing:0.252px;"><b>Prior Publication Data</b></div>
<div class="t" style="left:142.40px;top:520.63px;font-size:12.5px;word-spacing:0.277px;">US 2023/0408559 A1</div>
<div class="t" style="left:275.30px;top:520.63px;font-size:12.5px;word-spacing:0.688px;">Dec. 21, 2023</div>
<div class="t" style="left:109.50px;top:546.63px;font-size:12.5px;letter-spacing:-0.207px;">(51)</div>
<div class="t" style="left:142.40px;top:546.63px;font-size:12.5px;letter-spacing:0.093px;"><b>Int. Cl.</b></div>
<div class="t" style="left:142.00px;top:560.53px;font-size:12.5px;letter-spacing:0.073px;"><b><i>G01R 33/04</i></b></div>
<div class="t" style="left:258.40px;top:560.53px;font-size:12.5px;letter-spacing:0.072px;">(2006.01)</div>
<div class="t" style="left:142.00px;top:574.13px;font-size:12.5px;letter-spacing:0.073px;"><b><i>G01R 19/25</i></b></div>
<div class="t" style="left:258.40px;top:574.13px;font-size:12.5px;letter-spacing:0.072px;">(2006.01)</div>
<div class="t" style="left:109.50px;top:589.63px;font-size:12.5px;letter-spacing:-0.207px;">(52)</div>
<div class="t" style="left:142.40px;top:589.63px;font-size:12.5px;letter-spacing:0.114px;"><b>U.S. Cl.</b></div>
<div class="t" style="left:142.40px;top:603.43px;font-size:12.5px;letter-spacing:-0.347px;">CPC</div>
<div class="t" style="left:172.00px;top:603.43px;font-size:12.5px;letter-spacing:-0.055px;">..........</div>
<div class="t" style="left:211.20px;top:603.43px;font-size:12.5px;word-spacing:0.845px;"><b><i>G01R 19/2509</i></b> (2013.01); <i>G01R 33/04</i></div>
<div class="t" style="left:359.60px;top:617.03px;font-size:12.5px;letter-spacing:-0.017px;">(2013.01)</div>
<div class="t" style="left:109.50px;top:632.53px;font-size:12.5px;letter-spacing:-0.207px;">(58)</div>
<div class="t" style="left:143.00px;top:632.53px;font-size:12.5px;word-spacing:0.109px;"><b>Field of Classification Search</b></div>
<div class="t" style="left:142.40px;top:646.33px;font-size:12.5px;letter-spacing:-0.347px;">CPC</div>
<div class="t" style="left:172.00px;top:646.33px;font-size:12.5px;letter-spacing:-0.375px;">....</div>
<div class="t" style="left:190.00px;top:646.33px;font-size:12.5px;word-spacing:0.887px;">G01R 33/26; G01R 33/04; G01R 19/2509;</div>
<div class="t" style="left:202.30px;top:659.93px;font-size:12.5px;word-spacing:0.834px;">G01R 33/24; G01R 33/032; G01V 3/14;</div>
<div class="t" style="left:339.00px;top:673.03px;font-size:12.5px;letter-spacing:0.090px;">G01N 24/006</div>
<div class="t" style="left:142.40px;top:687.53px;font-size:12.5px;word-spacing:0.709px;">See application file for complete search history.</div>
<div class="t" style="left:433.20px;top:166.03px;font-size:12.5px;letter-spacing:-0.007px;">(56)</div>
<div class="t" style="left:538.20px;top:166.03px;font-size:12.5px;letter-spacing:-0.016px;"><b>References Cited</b></div>
<div class="t" style="left:507.00px;top:190.13px;font-size:12.5px;word-spacing:0.239px;">U.S. PATENT DOCUMENTS</div>
<div class="t" style="left:460.00px;top:215.00px;font-size:11.1px;letter-spacing:-0.175px;">4,851,763</div>
<div class="t" style="left:509.40px;top:215.00px;font-size:11.1px;letter-spacing:-0.816px;">A</div>
<div class="t" style="left:524.90px;top:215.00px;font-size:11.1px;letter-spacing:-1.447px;">*</div>
<div class="t" style="left:542.80px;top:215.00px;font-size:11.1px;letter-spacing:0.112px;">7/1989</div>
<div class="t" style="left:582.80px;top:215.00px;font-size:11.1px;letter-spacing:0.027px;">Grutzmacher</div>
<div class="t" style="left:647.20px;top:215.00px;font-size:11.1px;letter-spacing:-0.132px;">.......</div>
<div class="t" style="left:671.90px;top:215.00px;font-size:11.1px;letter-spacing:0.063px;">G01R 15/207</div>
<div class="t" style="left:696.00px;top:227.00px;font-size:11.1px;letter-spacing:0.046px;">324/130</div>
<div class="t" style="left:460.00px;top:239.30px;font-size:11.1px;letter-spacing:-0.175px;">6,448,767</div>
<div class="t" style="left:509.80px;top:239.30px;font-size:11.1px;letter-spacing:-0.677px;">B1</div>
<div class="t" style="left:523.80px;top:239.30px;font-size:11.1px;letter-spacing:-0.347px;">*</div>
<div class="t" style="left:543.40px;top:239.30px;font-size:11.1px;letter-spacing:0.012px;">9/2002</div>
<div class="t" style="left:582.80px;top:239.30px;font-size:11.1px;letter-spacing:0.032px;">Ganther, Jr.</div>
<div class="t" style="left:641.60px;top:239.30px;font-size:11.1px;letter-spacing:-0.117px;">.......</div>
<div class="t" style="left:666.80px;top:239.30px;font-size:11.1px;letter-spacing:0.020px;">G01R 33/0356</div>
<div class="t" style="left:696.00px;top:251.10px;font-size:11.1px;letter-spacing:0.046px;">327/527</div>
<div class="t" style="left:490.50px;top:275.63px;font-size:12.5px;word-spacing:0.370px;">FOREIGN PATENT DOCUMENTS</div>
<div class="t" style="left:433.20px;top:300.90px;font-size:11.1px;letter-spacing:0.058px;">WO</div>
<div class="t" style="left:477.50px;top:300.90px;font-size:11.1px;letter-spacing:-0.048px;">WO-2021114513</div>
<div class="t" style="left:558.80px;top:300.90px;font-size:11.1px;letter-spacing:-0.081px;">A1</div>
<div class="t" style="left:577.40px;top:300.90px;font-size:11.1px;letter-spacing:-0.447px;">*</div>
<div class="t" style="left:593.70px;top:300.90px;font-size:11.1px;letter-spacing:-0.171px;">6/2021</div>
<div class="t" style="left:636.30px;top:300.90px;font-size:11.1px;letter-spacing:-0.112px;">.............</div>
<div class="t" style="left:677.00px;top:300.90px;font-size:11.1px;letter-spacing:0.114px;">G01R 19/25</div>
<div class="t" style="left:433.20px;top:321.33px;font-size:12.5px;word-spacing:0.859px;">* cited by examiner</div>
<div class="t" style="left:433.20px;top:348.53px;font-size:12.5px;letter-spacing:0.019px;"><i>Primary Examiner</i></div>
<div class="t" style="left:530.00px;top:348.53px;font-size:12.5px;letter-spacing:-2.200px;">—</div>
<div class="t" style="left:544.40px;top:348.53px;font-size:12.5px;word-spacing:1.267px;">Lee E Rodak</div>
<div class="t" style="left:433.20px;top:364.63px;font-size:12.5px;letter-spacing:0.051px;"><i>Assistant Examiner</i></div>
<div class="t" style="left:534.00px;top:364.63px;font-size:12.5px;letter-spacing:-1.500px;">—</div>
<div class="t" style="left:548.50px;top:364.63px;font-size:12.5px;word-spacing:0.698px;">Taqi R Nasir</div>
<div class="t" style="left:433.20px;top:380.43px;font-size:12.5px;letter-spacing:-0.057px;">(74)</div>
<div class="t" style="left:460.00px;top:380.43px;font-size:12.5px;word-spacing:1.056px;"><i>Attorney, Agent, or Firm</i></div>
<div class="t" style="left:588.70px;top:380.43px;font-size:12.5px;letter-spacing:-1.200px;">—</div>
<div class="t" style="left:604.00px;top:380.43px;font-size:12.5px;letter-spacing:-0.028px;">MUNCY, GEISSLER,</div>
<div class="t" style="left:433.20px;top:393.43px;font-size:12.5px;word-spacing:0.725px;">OLDS &amp; LOWE, P.C.</div>
<div class="t" style="left:433.20px;top:420.63px;font-size:12.5px;letter-spacing:0.093px;">(57)</div>
<div class="t" style="left:549.60px;top:420.63px;font-size:12.5px;letter-spacing:-0.085px;"><b>ABSTRACT</b></div>
<div class="t" style="left:433.20px;top:439.53px;font-size:12.5px;word-spacing:5.051px;">A fluxgate current sensor and a current measurement</div>
<div class="t" style="left:433.20px;top:453.40px;font-size:12.5px;word-spacing:3.710px;">method, wherein the fluxgate current sensor includes a</div>
<div class="t" style="left:433.20px;top:467.27px;font-size:12.5px;word-spacing:0.516px;">magnetic probe and an excitation and detection circuit, and</div>
<div class="t" style="left:433.20px;top:481.14px;font-size:12.5px;word-spacing:0.844px;">the magnetic probe includes an excitation iron core and an</div>
<div class="t" style="left:433.20px;top:495.01px;font-size:12.5px;word-spacing:0.882px;">excitation coil, the excitation coil is connected to the exci-</div>
<div class="t" style="left:433.20px;top:508.88px;font-size:12.5px;word-spacing:3.116px;">tation and detection circuit, the excitation and detection</div>
<div class="t" style="left:433.20px;top:522.75px;font-size:12.5px;letter-spacing:-0.045px;">circuit is used to output alternating excitation voltages to the</div>
<div class="t" style="left:433.20px;top:536.62px;font-size:12.5px;word-spacing:0.266px;">excitation coil, and the excitation coil is excited to generate</div>
<div class="t" style="left:433.20px;top:550.49px;font-size:12.5px;word-spacing:0.589px;">alternating excitation currents and cause the excitation iron</div>
<div class="t" style="left:433.20px;top:564.36px;font-size:12.5px;letter-spacing:-0.039px;">core to reach saturation alternately; the excitation and detec-</div>
<div class="t" style="left:433.20px;top:578.23px;font-size:12.5px;word-spacing:1.857px;">tion circuit is further configured to convert the excitation</div>
<div class="t" style="left:433.20px;top:592.10px;font-size:12.5px;word-spacing:0.237px;">currents flowing through the excitation coil, into equivalent</div>
<div class="t" style="left:433.20px;top:605.97px;font-size:12.5px;letter-spacing:-0.047px;">differences of two currents, so as to calculate average values</div>
<div class="t" style="left:433.20px;top:619.84px;font-size:12.5px;letter-spacing:-0.029px;">of the excitation currents flowing through the excitation coil</div>
<div class="t" style="left:433.20px;top:633.71px;font-size:12.5px;word-spacing:1.422px;">via differential equivalent currents, thereby calculating to-</div>
<div class="t" style="left:433.20px;top:647.58px;font-size:12.5px;word-spacing:0.820px;">be-measured primary currents by the average values of the</div>
<div class="t" style="left:433.20px;top:661.45px;font-size:12.5px;">excitation currents.</div>
<div class="t" style="left:508.40px;top:687.23px;font-size:12.5px;word-spacing:0.928px;"><b>6 Claims, 8 Drawing Sheets</b></div>
<div class="t" style="left:466.70px;top:859.59px;font-size:17.8px;letter-spacing:0.407px;color:#222;">Excitation and</div>
<div class="t" style="left:484.90px;top:891.69px;font-size:17.8px;letter-spacing:0.319px;color:#222;">Detection</div>
<div class="t" style="left:499.60px;top:924.89px;font-size:17.8px;letter-spacing:0.387px;color:#222;">Circuit</div>
</div>
</body></html>
